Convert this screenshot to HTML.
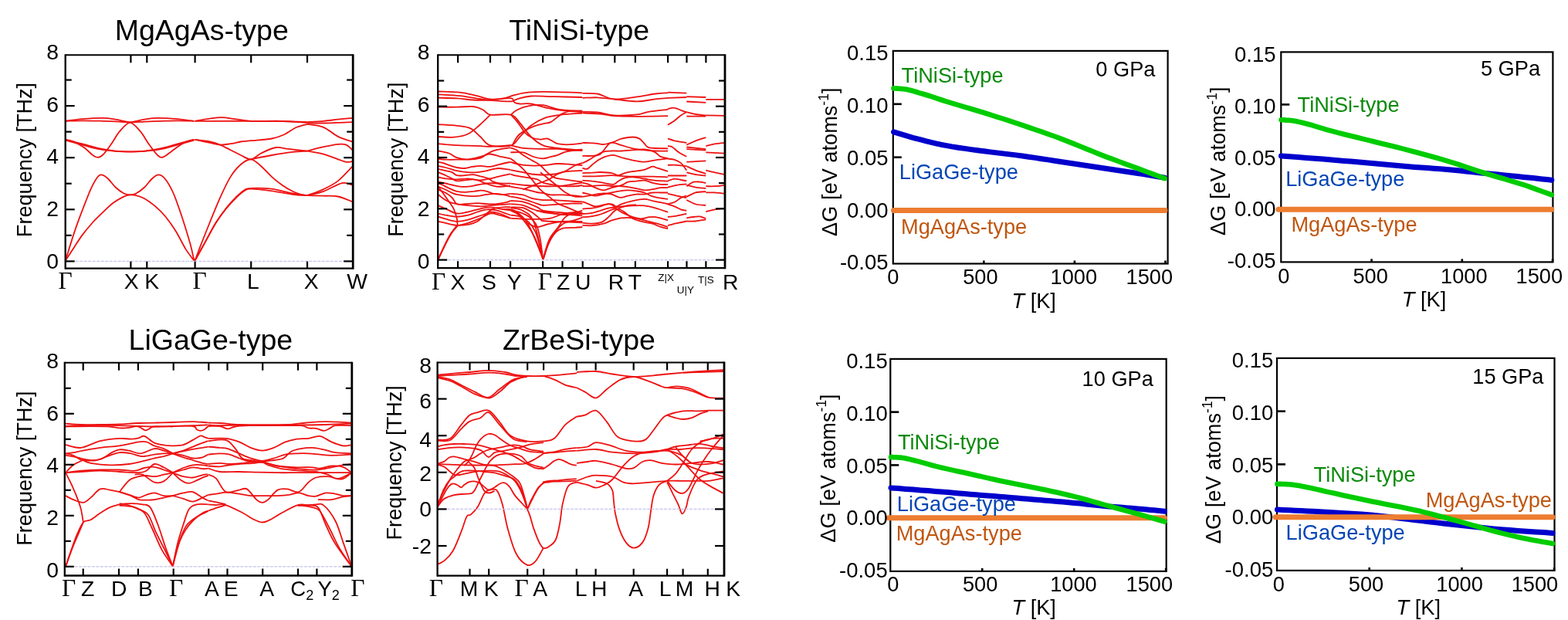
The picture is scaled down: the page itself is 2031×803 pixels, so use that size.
<!DOCTYPE html>
<html><head><meta charset="utf-8"><style>html,body{margin:0;padding:0;background:#fff;overflow:hidden}svg{display:block}</style></head><body>
<svg width="2031" height="803" viewBox="0 0 2031 803">
<rect width="2031" height="803" fill="#fff"/>
<defs>
<clipPath id="cP1"><rect x="84.7" y="71.3" width="372.5" height="276.3"/></clipPath>
<clipPath id="cP2"><rect x="567.2" y="71.3" width="371.79999999999995" height="275.9"/></clipPath>
<clipPath id="cP3"><rect x="83.8" y="469.7" width="372.0" height="275.8"/></clipPath>
<clipPath id="cP4"><rect x="566.6" y="469.5" width="371.4" height="276.20000000000005"/></clipPath>
</defs>
<g fill="none" stroke="#ee1111" stroke-width="1.8" stroke-linejoin="round" clip-path="url(#cP1)">
<path d="M84.8,337.6C86.7,334.7 92.4,325.8 96.1,320.2C99.7,314.6 102.8,309.5 106.8,304.1C110.8,298.8 115.7,293.0 120.2,288.0C124.6,283.1 129.1,278.9 133.6,274.7C138.0,270.4 142.5,265.9 147.0,262.6C151.4,259.3 156.8,256.3 160.4,254.6C163.9,252.9 165.7,252.6 168.4,252.4C171.1,252.2 173.3,252.4 176.4,253.2C179.6,254.0 183.1,255.0 187.2,257.2C191.2,259.5 196.1,262.8 200.5,266.6C205.0,270.4 209.5,274.7 213.9,280.0C218.4,285.4 222.9,291.6 227.3,298.8C231.8,305.9 236.7,316.4 240.7,322.9C244.7,329.3 249.7,335.2 251.4,337.6"/>
<path d="M84.8,337.6C86.7,331.6 92.4,312.4 96.1,301.4C99.7,290.5 103.2,281.4 106.8,272.0C110.4,262.6 114.4,252.1 117.5,245.2C120.6,238.3 123.3,233.6 125.5,230.5C127.8,227.3 128.7,226.4 130.9,226.4C133.1,226.4 135.8,227.8 138.9,230.5C142.1,233.1 146.1,239.2 149.6,242.5C153.2,245.9 157.2,248.9 160.4,250.5C163.5,252.2 165.7,252.4 168.4,252.4C171.1,252.4 173.3,252.2 176.4,250.5C179.6,248.9 183.6,245.9 187.2,242.5C190.7,239.2 194.7,233.1 197.9,230.5C201.0,227.8 203.2,226.2 205.9,226.4C208.6,226.7 210.8,227.8 213.9,231.8C217.1,235.8 221.1,242.5 224.7,250.5C228.2,258.6 231.8,269.3 235.4,280.0C238.9,290.7 243.4,305.2 246.1,314.8C248.8,324.4 250.6,333.8 251.4,337.6"/>
<path d="M84.8,180.9C86.7,181.3 92.0,181.8 96.1,183.6C100.2,185.4 105.4,188.7 109.5,191.6C113.5,194.5 117.3,198.9 120.2,201.0C123.1,203.0 124.6,204.1 126.9,203.9C129.1,203.8 130.7,203.1 133.6,200.2C136.5,197.2 140.7,191.3 144.3,186.3C147.9,181.3 151.0,174.7 155.0,170.2C159.0,165.6 163.9,158.9 168.4,158.9C172.9,158.9 177.8,165.6 181.8,170.2C185.8,174.7 188.9,181.3 192.5,186.3C196.1,191.3 200.5,197.2 203.2,200.2C206.0,203.1 206.9,203.9 209.1,203.9C211.4,203.9 213.1,202.5 216.6,200.2C220.1,197.9 226.0,193.0 230.0,190.3C234.0,187.5 237.2,185.1 240.7,183.6C244.3,182.0 249.7,181.3 251.4,180.9"/>
<path d="M84.8,180.9C88.5,181.8 99.6,184.4 106.8,186.3C114.0,188.1 121.1,190.6 128.2,192.1C135.4,193.7 143.0,194.9 149.6,195.6C156.3,196.3 162.2,196.4 168.4,196.4C174.7,196.4 180.5,196.3 187.2,195.6C193.8,194.9 201.4,193.7 208.6,192.1C215.7,190.6 222.9,188.1 230.0,186.3C237.2,184.4 247.9,181.8 251.4,180.9"/>
<path d="M84.8,181.7C88.5,182.7 99.6,185.7 106.8,187.6C114.0,189.5 121.1,191.8 128.2,193.2C135.4,194.6 143.0,195.3 149.6,195.9C156.3,196.5 162.2,196.7 168.4,196.7C174.7,196.7 180.5,196.5 187.2,195.9C193.8,195.3 201.4,194.6 208.6,193.2C215.7,191.8 222.9,189.5 230.0,187.6C237.2,185.7 247.9,182.7 251.4,181.7"/>
<path d="M84.8,156.8C88.5,156.7 98.7,156.3 106.8,156.3C114.9,156.3 125.5,156.6 133.6,156.8C141.6,157.0 149.2,157.3 155.0,157.6C160.8,157.9 163.0,158.4 168.4,158.4C173.8,158.4 180.5,157.9 187.2,157.6C193.8,157.3 201.4,157.0 208.6,156.8C215.7,156.6 222.9,156.3 230.0,156.3C237.2,156.3 247.9,156.7 251.4,156.8"/>
<path d="M84.8,156.8C88.5,156.3 98.7,154.8 106.8,154.1C114.9,153.4 126.4,152.7 133.6,152.8C140.7,152.9 145.2,154.0 149.6,154.6C154.1,155.3 157.2,156.2 160.4,156.8C163.5,157.4 165.7,158.4 168.4,158.4C171.1,158.4 173.3,157.4 176.4,156.8C179.6,156.2 182.7,155.3 187.2,154.6C191.6,154.0 196.1,152.9 203.2,152.8C210.4,152.7 222.0,153.4 230.0,154.1C238.0,154.8 247.9,156.3 251.4,156.8"/>
<path d="M252.5,337.5C254.8,333.3 261.9,320.3 266.4,312.1C271.0,303.8 275.3,295.1 279.8,288.0C284.3,280.8 288.7,274.8 293.2,269.2C297.7,263.6 302.6,258.4 306.6,254.5C310.6,250.6 314.2,247.4 317.3,245.7C320.4,243.9 319.5,244.0 325.3,243.8C331.1,243.6 343.2,243.5 352.1,244.6C361.0,245.7 371.2,249.1 378.9,250.5C386.5,251.9 394.9,252.7 398.1,253.2"/>
<path d="M252.5,337.5C254.8,333.3 261.9,320.8 266.4,312.6C271.0,304.4 275.3,295.6 279.8,288.5C284.3,281.4 288.7,275.6 293.2,270.0C297.7,264.5 302.6,259.2 306.6,255.3C310.6,251.4 314.2,248.5 317.3,246.7C320.4,244.9 319.5,244.5 325.3,244.6C331.1,244.7 343.2,246.1 352.1,247.3C361.0,248.5 371.2,250.8 378.9,251.8C386.5,252.8 394.9,252.9 398.1,253.2"/>
<path d="M252.5,337.5C253.9,333.7 257.9,323.0 261.1,314.7C264.3,306.5 267.8,297.8 271.8,288.0C275.8,278.1 280.7,265.7 285.2,255.8C289.6,246.0 294.1,236.2 298.5,229.1C303.0,221.9 307.5,216.8 311.9,213.0C316.4,209.2 320.9,205.9 325.3,206.3C329.8,206.8 334.2,211.9 338.7,215.7C343.2,219.5 347.6,225.0 352.1,229.1C356.6,233.1 361.0,236.6 365.5,239.8C369.9,242.9 374.9,245.8 378.9,247.8C382.9,249.8 386.4,250.9 389.6,251.8C392.8,252.7 396.7,252.9 398.1,253.2"/>
<path d="M252.5,180.9C255.7,181.3 266.3,182.4 271.8,183.5C277.2,184.7 280.7,185.8 285.2,187.6C289.6,189.3 294.1,192.0 298.5,194.3C303.0,196.5 307.5,198.9 311.9,201.0C316.4,203.0 320.9,206.8 325.3,206.3C329.8,205.9 333.4,200.8 338.7,198.3C344.1,195.7 351.6,191.9 357.4,191.0C363.3,190.2 366.7,192.2 373.5,192.9C380.3,193.7 394.0,195.1 398.1,195.6"/>
<path d="M252.5,180.9C255.7,181.5 266.3,183.8 271.8,184.9C277.2,186.0 280.7,187.3 285.2,187.6C289.6,187.8 294.1,186.9 298.5,186.2C303.0,185.6 307.5,184.2 311.9,183.5C316.4,182.9 318.6,182.9 325.3,182.2C332.0,181.5 345.0,180.9 352.1,179.5C359.2,178.2 362.8,176.6 368.2,174.2C373.5,171.7 379.2,167.0 384.2,164.8C389.2,162.6 395.8,161.5 398.1,160.8"/>
<path d="M325.3,206.3C329.8,205.4 343.2,202.5 352.1,201.0C361.0,199.4 371.2,197.8 378.9,196.9C386.5,196.0 394.9,195.8 398.1,195.6"/>
<path d="M252.5,156.8C257.9,156.8 273.0,156.8 285.2,156.8C297.3,156.8 311.9,156.7 325.3,156.8C338.7,156.8 353.3,156.8 365.5,157.0C377.6,157.3 392.7,157.9 398.1,158.1"/>
<path d="M252.5,156.8C255.7,156.2 265.9,154.3 271.8,153.6C277.7,152.8 282.5,152.1 287.8,152.2C293.2,152.3 297.7,153.3 303.9,154.1C310.1,154.9 315.1,156.3 325.3,156.8C335.6,157.2 353.3,156.4 365.5,156.8C377.6,157.1 392.7,158.6 398.1,158.9"/>
<path d="M398.1,160.8C401.6,161.5 412.4,162.1 419.0,164.8C425.6,167.5 431.5,173.7 437.8,176.9C444.0,180.0 453.4,182.4 456.5,183.5"/>
<path d="M398.1,158.1C401.6,157.9 412.4,157.4 419.0,156.8C425.6,156.2 431.5,155.3 437.8,154.6C444.0,154.0 453.4,153.1 456.5,152.8"/>
<path d="M398.1,159.5C401.6,159.5 412.4,159.5 419.0,159.5C425.6,159.4 431.5,159.1 437.8,158.9C444.0,158.7 453.4,158.2 456.5,158.1"/>
<path d="M398.1,195.6C401.6,194.7 412.4,191.7 419.0,190.2C425.6,188.8 432.9,187.2 437.8,186.8C442.7,186.3 445.4,186.3 448.5,187.6C451.6,188.8 455.2,193.1 456.5,194.3"/>
<path d="M398.1,195.6C401.6,196.3 412.4,197.8 419.0,199.6C425.6,201.4 432.9,204.6 437.8,206.3C442.7,208.0 445.4,209.3 448.5,209.8C451.6,210.2 455.2,209.1 456.5,209.0"/>
<path d="M398.1,253.2C401.6,251.8 412.4,248.3 419.0,245.1C425.6,242.0 431.5,239.3 437.8,234.4C444.0,229.5 453.4,218.8 456.5,215.7"/>
<path d="M398.1,253.2C401.6,252.3 411.5,250.5 419.0,247.8C426.5,245.1 436.9,238.4 443.1,237.1C449.4,235.8 454.3,239.3 456.5,239.8"/>
<path d="M398.1,253.2C401.6,253.2 412.4,253.5 419.0,253.7C425.6,253.9 431.5,253.2 437.8,254.5C444.0,255.7 453.4,260.1 456.5,261.2"/>
</g>
<g fill="none" stroke="#ee1111" stroke-width="1.8" stroke-linejoin="round" clip-path="url(#cP2)">
<path d="M567.8,118.5C572.4,118.7 587.3,118.7 595.5,119.6C603.6,120.5 610.2,122.4 616.7,123.8C623.2,125.3 628.6,127.8 634.5,128.4C640.4,129.0 646.9,128.3 652.2,127.4C657.5,126.5 661.1,124.4 666.4,123.1C671.7,121.8 677.0,120.3 684.1,119.6C691.2,118.9 697.2,118.7 708.9,118.9C720.6,119.0 746.8,120.0 754.3,120.3"/>
<path d="M567.8,122.4C572.4,122.7 587.3,123.4 595.5,124.2C603.6,125.0 610.2,126.4 616.7,127.4C623.2,128.3 629.1,129.3 634.5,129.9C639.8,130.4 643.9,130.7 648.7,130.9C653.4,131.2 659.3,131.7 662.8,131.3C666.4,130.9 665.8,129.6 669.9,128.4C674.1,127.3 679.4,125.1 687.7,124.5C695.9,124.0 708.5,125.0 719.6,125.2C730.7,125.5 748.5,125.8 754.3,126.0"/>
<path d="M567.8,126.7C571.8,126.8 584.3,126.9 591.9,127.4C599.5,127.8 606.1,129.1 613.2,129.5C620.3,129.9 628.6,129.7 634.5,129.5C640.4,129.3 643.9,128.4 648.7,128.1C653.4,127.7 659.9,126.6 662.8,127.4C665.8,128.1 664.6,131.5 666.4,132.7C668.2,133.9 669.9,134.2 673.5,134.5C677.0,134.8 681.7,133.6 687.7,134.5C693.6,135.4 701.8,138.3 708.9,139.8C716.0,141.3 722.6,142.4 730.2,143.3C737.8,144.2 750.3,144.8 754.3,145.1"/>
<path d="M567.8,138.7C571.8,138.7 584.3,138.8 591.9,138.7C599.5,138.6 607.6,137.4 613.2,138.0C618.8,138.6 621.9,140.5 625.6,142.3C629.3,144.0 629.1,147.6 635.2,148.7C641.2,149.7 655.4,146.9 661.8,148.7C668.2,150.4 669.2,154.6 673.5,159.3C677.8,164.0 682.6,172.2 687.7,177.0C692.7,181.9 697.7,185.9 703.6,188.4C709.5,190.9 714.7,190.9 723.1,191.9C731.6,193.0 749.1,194.3 754.3,194.8"/>
<path d="M567.8,161.1C571.8,161.4 584.9,162.0 591.9,162.8C598.9,163.7 604.6,164.0 609.6,166.4C614.7,168.7 617.8,173.4 622.1,177.0C626.3,180.7 628.6,186.5 635.2,188.4C641.8,190.3 655.4,190.3 661.8,188.4C668.2,186.5 669.2,181.3 673.5,177.0C677.8,172.8 682.3,166.9 687.7,162.8C693.0,158.8 698.9,155.3 705.4,152.9C711.9,150.5 718.5,149.7 726.7,148.7C734.8,147.6 749.7,146.9 754.3,146.5"/>
<path d="M567.8,177.0C571.2,177.1 582.0,178.3 588.4,177.7C594.8,177.1 600.8,176.0 606.1,173.5C611.4,171.0 615.4,167.0 620.3,162.8C625.1,158.7 632.7,151.0 635.2,148.7"/>
<path d="M661.8,148.7C663.1,147.6 666.2,144.2 669.9,142.3C673.7,140.4 678.5,138.3 684.1,137.3C689.7,136.3 697.1,135.5 703.6,136.2C710.1,137.0 714.7,140.2 723.1,141.6C731.6,142.9 749.1,143.9 754.3,144.4"/>
<path d="M661.8,269.2C664.3,269.8 672.1,269.8 677.0,272.8C681.9,275.7 686.8,276.4 691.2,287.0C695.6,297.5 701.5,327.7 703.6,335.9"/>
<path d="M652.2,271.0C654.6,271.3 661.1,269.5 666.4,272.8C671.7,276.0 677.9,280.0 684.1,290.5C690.3,301.0 700.4,328.3 703.6,335.9"/>
<path d="M661.8,272.8C663.7,273.9 668.6,274.5 673.5,279.9C678.4,285.2 686.2,295.3 691.2,304.7C696.2,314.0 701.5,330.7 703.6,335.9"/>
<path d="M703.6,335.9C704.8,332.5 708.0,321.1 710.7,315.3C713.4,309.5 716.6,304.4 719.6,301.1C722.5,297.9 724.3,296.9 728.4,295.8C732.6,294.8 740.1,295.0 744.4,294.8C748.7,294.5 752.7,294.2 754.3,294.0"/>
<path d="M703.6,335.9C704.5,333.0 706.9,324.1 708.9,318.9C711.0,313.7 712.8,309.4 716.0,304.7C719.3,300.0 723.7,293.7 728.4,290.5C733.2,287.2 740.1,286.7 744.4,285.2C748.7,283.7 752.7,282.2 754.3,281.6"/>
<path d="M703.6,335.9C704.2,333.6 705.7,327.0 707.2,322.4C708.6,317.8 709.8,313.0 712.5,308.2C715.1,303.5 719.6,298.8 723.1,294.0C726.7,289.3 728.6,283.4 733.8,279.9C739.0,276.3 750.9,273.9 754.3,272.8"/>
<path d="M680.6,287.0C682.9,288.1 690.0,293.5 694.8,294.0C699.5,294.6 703.3,291.7 708.9,290.5C714.6,289.3 720.9,287.5 728.4,287.0C736.0,286.4 750.0,287.0 754.3,287.0"/>
<path d="M694.8,272.8C697.1,273.1 703.3,273.7 708.9,274.5C714.6,275.4 720.9,277.7 728.4,278.1C736.0,278.5 750.0,277.2 754.3,277.0"/>
<path d="M567.5,186.2C569.1,186.3 573.3,186.8 577.3,187.2C581.4,187.5 586.9,188.0 591.7,188.2C596.5,188.5 600.9,188.5 606.1,188.6C611.2,188.8 617.7,189.0 622.5,189.2C627.3,189.4 630.7,189.9 634.8,189.9C638.9,189.9 642.8,189.5 647.1,189.2C651.5,189.0 658.8,188.4 661.1,188.2"/>
<path d="M567.5,195.4C569.8,195.9 577.4,197.0 581.4,198.5C585.5,200.0 587.6,202.9 591.7,204.2C595.8,205.6 600.9,206.6 606.1,206.7C611.2,206.8 618.4,205.8 622.5,204.6C626.6,203.4 628.0,201.0 630.7,199.5C633.4,198.0 635.5,196.5 638.9,195.4C642.3,194.3 647.5,193.4 651.2,192.7C654.9,192.0 659.5,191.5 661.1,191.3"/>
<path d="M567.5,205.7C569.1,205.8 573.3,206.5 577.3,206.7C581.4,206.9 586.9,206.8 591.7,206.7C596.5,206.6 602.0,206.6 606.1,206.3C610.2,205.9 612.9,205.4 616.3,204.6C619.8,203.9 623.5,202.4 626.6,201.6C629.7,200.7 631.4,199.3 634.8,199.5C638.2,199.7 642.8,201.6 647.1,202.6C651.5,203.5 658.8,204.8 661.1,205.3"/>
<path d="M567.5,209.8C568.4,209.9 570.9,210.1 573.2,210.8C575.5,211.5 578.3,212.9 581.4,213.9C584.5,214.9 588.3,216.3 591.7,217.0C595.1,217.6 598.5,218.2 602.0,218.0C605.4,217.8 608.8,216.4 612.2,215.9C615.7,215.4 618.7,214.9 622.5,214.9C626.3,214.9 630.7,216.3 634.8,215.9C638.9,215.6 642.8,213.9 647.1,212.9C651.5,211.8 658.8,210.3 661.1,209.8"/>
<path d="M567.5,214.9C569.1,215.2 573.3,215.9 577.3,217.0C581.4,218.0 586.9,220.0 591.7,221.1C596.5,222.1 601.6,222.8 606.1,223.1C610.5,223.5 614.3,223.5 618.4,223.1C622.5,222.8 627.3,221.8 630.7,221.1C634.1,220.4 636.2,219.5 638.9,219.0C641.7,218.5 643.4,217.8 647.1,218.0C650.8,218.2 658.8,219.7 661.1,220.0"/>
<path d="M567.5,219.0C569.1,219.4 574.3,220.4 577.3,221.1C580.3,221.8 583.1,222.1 585.5,223.1C587.9,224.1 589.0,226.5 591.7,227.2C594.4,227.9 598.5,227.4 602.0,227.2C605.4,227.1 608.8,226.0 612.2,226.2C615.7,226.4 619.1,227.4 622.5,228.3C625.9,229.1 630.0,230.1 632.8,231.3C635.5,232.5 636.5,234.4 638.9,235.4C641.3,236.5 643.4,237.2 647.1,237.5C650.8,237.8 658.8,237.5 661.1,237.5"/>
<path d="M567.5,223.1C569.1,223.8 574.3,225.9 577.3,227.2C580.3,228.6 583.1,230.1 585.5,231.3C587.9,232.5 589.0,234.1 591.7,234.4C594.4,234.8 598.5,233.7 602.0,233.4C605.4,233.0 608.8,232.4 612.2,232.4C615.7,232.4 618.7,233.6 622.5,233.4C626.3,233.2 630.7,232.2 634.8,231.3C638.9,230.5 642.8,229.2 647.1,228.3C651.5,227.3 658.8,225.9 661.1,225.4"/>
<path d="M567.5,229.3C569.1,229.6 573.6,230.8 577.3,231.3C581.0,231.8 584.8,232.4 589.6,232.4C594.4,232.4 601.3,231.2 606.1,231.3C610.9,231.5 615.0,232.5 618.4,233.4C621.8,234.2 623.9,235.4 626.6,236.5C629.3,237.5 632.1,238.7 634.8,239.5C637.6,240.4 640.3,241.3 643.0,241.6C645.8,241.9 648.2,241.8 651.2,241.6C654.3,241.4 659.5,240.7 661.1,240.6"/>
<path d="M567.5,235.4C569.1,235.8 574.3,236.8 577.3,237.5C580.3,238.2 582.5,238.9 585.5,239.5C588.6,240.2 592.4,241.3 595.8,241.6C599.2,241.9 602.3,241.9 606.1,241.6C609.8,241.3 614.3,240.2 618.4,239.5C622.5,238.9 626.6,237.8 630.7,237.5C634.8,237.2 639.6,237.2 643.0,237.5C646.5,237.8 648.2,238.9 651.2,239.5C654.3,240.2 659.5,241.3 661.1,241.6"/>
<path d="M567.5,237.5C568.4,237.8 570.9,238.5 573.2,239.5C575.5,240.6 578.3,242.3 581.4,243.7C584.5,245.0 588.3,246.9 591.7,247.8C595.1,248.6 598.2,248.8 602.0,248.8C605.7,248.8 610.9,248.1 614.3,247.8C617.7,247.4 619.8,246.7 622.5,246.7C625.2,246.7 628.0,247.1 630.7,247.8C633.4,248.4 635.5,250.2 638.9,250.8C642.3,251.5 647.5,251.9 651.2,251.9C654.9,251.9 659.5,251.0 661.1,250.8"/>
<path d="M567.5,241.6C569.1,242.3 574.3,244.3 577.3,245.7C580.3,247.1 583.1,248.8 585.5,249.8C587.9,250.8 588.3,251.2 591.7,251.9C595.1,252.6 601.6,253.6 606.1,253.9C610.5,254.3 614.3,254.3 618.4,253.9C622.5,253.6 626.6,252.4 630.7,251.9C634.8,251.4 638.9,250.7 643.0,250.8C647.1,251.0 652.3,252.3 655.3,252.9C658.4,253.5 660.1,254.3 661.1,254.5"/>
<path d="M567.5,245.7C569.1,246.4 574.3,248.1 577.3,249.8C580.3,251.5 583.1,253.6 585.5,256.0C587.9,258.4 589.0,262.8 591.7,264.2C594.4,265.6 597.5,264.4 602.0,264.2C606.4,264.0 613.6,263.2 618.4,263.2C623.2,263.2 626.6,264.0 630.7,264.2C634.8,264.4 638.9,264.5 643.0,264.2C647.1,263.8 652.3,262.8 655.3,262.1C658.4,261.5 660.1,260.4 661.1,260.1"/>
<path d="M567.5,251.9C568.8,252.9 572.6,256.3 575.3,258.0C577.9,259.7 580.7,261.1 583.5,262.1C586.2,263.2 587.9,263.5 591.7,264.2C595.5,264.9 600.9,265.7 606.1,266.2C611.2,266.8 617.7,267.3 622.5,267.3C627.3,267.3 630.7,266.6 634.8,266.2C638.9,265.9 642.8,265.6 647.1,265.2C651.5,264.9 658.8,264.4 661.1,264.2"/>
<path d="M567.5,241.6C569.4,244.3 576.0,253.2 579.4,258.0C582.7,262.8 585.5,266.2 587.6,270.3C589.6,274.5 590.8,279.1 591.7,282.7C592.5,286.3 592.5,290.4 592.7,291.9"/>
<path d="M567.5,266.2C569.1,266.9 573.3,268.6 577.3,270.3C581.4,272.1 586.9,275.8 591.7,276.5C596.5,277.2 600.9,275.5 606.1,274.5C611.2,273.4 617.7,271.4 622.5,270.3C627.3,269.3 630.7,268.3 634.8,268.3C638.9,268.3 642.8,269.7 647.1,270.3C651.5,271.0 658.8,272.1 661.1,272.4"/>
<path d="M567.5,276.5C569.1,276.9 573.3,277.9 577.3,278.6C581.4,279.2 586.9,280.6 591.7,280.6C596.5,280.6 601.6,279.6 606.1,278.6C610.5,277.5 614.3,275.7 618.4,274.5C622.5,273.3 626.6,271.7 630.7,271.4C634.8,271.0 638.9,271.5 643.0,272.4C647.1,273.3 652.3,275.5 655.3,276.5C658.4,277.5 660.1,278.2 661.1,278.6"/>
<path d="M567.5,280.6C569.1,281.1 573.3,282.7 577.3,283.7C581.4,284.7 586.9,286.6 591.7,286.8C596.5,286.9 601.6,285.7 606.1,284.7C610.5,283.7 614.3,282.0 618.4,280.6C622.5,279.2 628.0,277.5 630.7,276.5C633.4,275.5 632.1,274.5 634.8,274.5C637.6,274.5 642.8,275.1 647.1,276.5C651.5,277.9 658.8,281.6 661.1,282.7"/>
<path d="M567.5,286.8C569.1,287.1 574.3,288.1 577.3,288.8C580.3,289.5 583.0,290.4 585.5,290.9C588.1,291.4 589.3,291.9 592.7,291.9C596.1,291.9 601.8,291.7 606.1,290.9C610.3,290.0 613.9,289.5 618.4,286.8C622.8,284.0 629.3,277.2 632.8,274.5C636.2,271.7 635.8,271.4 638.9,270.3C642.0,269.3 647.5,268.6 651.2,268.3C654.9,268.0 659.5,268.3 661.1,268.3"/>
<path d="M567.5,336.1C568.8,333.3 572.6,325.1 575.3,319.6C577.9,314.2 580.6,307.8 583.5,303.2C586.4,298.6 591.2,293.8 592.7,291.9"/>
<path d="M567.5,336.1C569.1,332.6 574.3,321.3 577.3,315.5C580.3,309.7 583.0,305.0 585.5,301.1C588.1,297.3 591.5,294.0 592.7,292.5"/>
<path d="M567.5,336.1C568.4,334.0 570.9,328.5 573.2,323.7C575.5,318.9 578.7,312.1 581.4,307.3C584.2,302.5 587.8,297.5 589.6,295.0C591.5,292.5 590.0,293.6 592.7,292.5C595.5,291.5 601.1,290.5 606.1,288.8C611.0,287.2 617.7,284.7 622.5,282.7C627.3,280.6 630.7,277.2 634.8,276.5C638.9,275.8 642.8,277.5 647.1,278.6C651.5,279.6 658.8,282.0 661.1,282.7"/>
<path d="M661.3,188.2C664.0,188.8 670.4,191.0 677.4,191.8C684.4,192.6 695.8,192.7 703.2,192.9C710.7,193.1 717.3,192.7 722.3,192.9C727.4,193.1 728.2,193.7 733.5,194.0C738.9,194.4 750.9,195.0 754.4,195.2"/>
<path d="M661.3,209.7C662.5,210.1 665.0,211.2 668.5,212.0C671.9,212.7 676.1,213.9 681.9,214.2C687.7,214.6 696.5,214.6 703.2,214.2C710.0,213.9 716.1,212.2 722.3,212.0C728.5,211.8 734.9,212.7 740.3,213.1C745.6,213.5 752.0,214.0 754.4,214.2"/>
<path d="M661.3,220.1C664.0,220.6 672.9,222.3 677.4,223.2C682.0,224.1 684.4,224.9 688.7,225.5C693.0,226.0 698.4,226.6 703.2,226.6C708.1,226.6 712.8,226.2 717.8,225.5C722.9,224.7 727.4,222.8 733.5,222.1C739.6,221.3 750.9,221.2 754.4,221.0"/>
<path d="M661.3,237.6C664.7,238.0 674.9,239.4 681.9,240.0C688.9,240.6 696.5,241.0 703.2,241.2C710.0,241.3 716.1,241.5 722.3,241.2C728.5,240.8 734.9,239.7 740.3,238.9C745.6,238.2 752.0,237.0 754.4,236.7"/>
<path d="M661.3,241.6C664.7,242.3 676.2,244.4 681.9,245.6C687.6,246.9 691.8,248.3 695.4,249.0C698.9,249.8 700.2,249.6 703.2,250.1C706.2,250.7 709.0,252.0 713.3,252.4C717.6,252.7 723.8,252.2 729.0,252.4C734.3,252.6 740.5,253.1 744.7,253.5C749.0,253.9 752.8,254.4 754.4,254.6"/>
<path d="M661.3,250.8C664.0,251.1 672.9,251.4 677.4,252.4C682.0,253.4 684.4,255.7 688.7,256.9C693.0,258.0 698.4,258.7 703.2,259.1C708.1,259.5 712.8,258.9 717.8,259.1C722.9,259.3 727.4,259.9 733.5,260.2C739.6,260.6 750.9,261.2 754.4,261.4"/>
<path d="M661.3,282.7C665.1,282.9 677.7,283.6 684.2,283.8C690.6,284.0 695.0,284.0 699.9,283.8C704.7,283.6 708.5,283.8 713.3,282.7C718.2,281.5 723.8,278.4 729.0,277.1C734.3,275.7 740.5,275.0 744.7,274.8C749.0,274.6 752.8,275.7 754.4,275.9"/>
<path d="M661.3,260.0C664.0,260.2 671.8,260.0 677.4,261.4C683.1,262.7 691.1,266.2 695.4,268.1C699.7,270.0 698.8,271.4 703.2,272.6C707.7,273.7 713.8,274.1 722.3,274.8C730.8,275.6 749.0,276.7 754.4,277.1"/>
<path d="M661.3,264.3C664.0,264.5 672.9,264.8 677.4,265.8C682.0,266.8 684.4,268.8 688.7,270.3C693.0,271.8 697.6,273.7 703.2,274.8C708.8,275.9 713.8,276.3 722.3,277.1C730.8,277.8 749.0,278.9 754.4,279.3"/>
<path d="M661.3,268.3C664.0,268.5 672.9,268.1 677.4,269.2C682.0,270.3 684.9,272.4 688.7,274.8C692.4,277.2 697.4,281.9 699.9,283.8C702.3,285.7 699.5,285.5 703.2,286.0C707.0,286.6 713.8,286.8 722.3,287.2C730.8,287.5 749.0,288.1 754.4,288.3"/>
<path d="M661.3,272.3C663.2,272.8 668.8,273.3 672.9,274.8C677.1,276.3 682.7,278.6 686.4,281.5C690.2,284.5 693.1,287.9 695.4,292.8C697.6,297.6 698.6,303.5 699.9,310.7C701.2,318.0 702.7,332.0 703.2,336.3"/>
<path d="M661.3,278.6C663.2,278.9 669.1,279.0 672.9,280.4C676.8,281.8 680.8,284.0 684.2,287.2C687.5,290.3 690.7,294.4 693.1,299.5C695.6,304.5 697.1,311.3 698.8,317.4C700.4,323.6 702.5,333.1 703.2,336.3"/>
<path d="M754.5,120.9C757.7,121.0 767.2,120.3 773.9,121.5C780.7,122.8 786.4,127.8 794.9,128.4C803.3,129.1 815.8,126.6 824.8,125.4C833.7,124.3 842.0,122.4 848.7,121.5C855.4,120.7 862.4,120.5 865.1,120.3"/>
<path d="M754.5,126.9C757.7,126.8 767.2,126.1 773.9,126.3C780.7,126.6 786.4,127.6 794.9,128.4C803.3,129.3 815.8,131.4 824.8,131.4C833.7,131.4 842.0,129.2 848.7,128.4C855.4,127.7 862.4,127.2 865.1,126.9"/>
<path d="M754.5,144.9C757.7,145.0 767.2,144.7 773.9,145.5C780.7,146.2 786.4,148.8 794.9,149.3C803.3,149.8 817.3,149.2 824.8,148.4C832.2,147.7 833.0,146.0 839.7,144.9C846.4,143.8 860.9,142.4 865.1,141.9"/>
<path d="M754.5,146.4C758.7,146.6 773.2,147.2 779.9,147.8C786.6,148.5 787.4,149.7 794.9,150.2C802.3,150.7 813.0,150.8 824.8,150.8C836.5,150.8 858.4,150.3 865.1,150.2"/>
<path d="M754.4,184.9C757.2,185.0 766.6,185.2 771.2,185.6C775.7,185.9 777.9,187.3 781.7,187.0C785.6,186.8 790.6,185.1 794.4,183.9C798.3,182.6 800.8,180.7 805.0,179.6C809.3,178.6 816.0,177.5 819.8,177.5C823.7,177.5 825.8,178.2 828.3,179.6C830.8,181.0 832.5,184.0 834.7,186.0C836.8,187.9 835.9,190.2 841.0,191.3C846.1,192.3 861.1,192.2 865.1,192.3"/>
<path d="M754.4,201.9C756.5,201.9 763.1,202.2 766.9,201.9C770.8,201.5 774.0,202.2 777.5,199.7C781.0,197.3 785.3,189.5 788.1,187.0C790.9,184.6 791.6,184.7 794.4,184.9C797.3,185.1 800.8,186.9 805.0,188.1C809.3,189.3 814.9,191.3 819.8,192.3C824.8,193.4 829.7,193.9 834.7,194.4C839.6,195.0 844.4,195.3 849.5,195.5C854.6,195.7 862.5,195.5 865.1,195.5"/>
<path d="M754.4,211.4C755.8,210.7 759.9,208.7 762.7,207.1C765.5,205.6 768.0,203.6 771.2,201.9C774.3,200.1 778.2,197.6 781.7,196.6C785.3,195.5 788.4,195.7 792.3,195.5C796.2,195.3 800.4,195.7 805.0,195.5C809.6,195.3 814.9,194.8 819.8,194.4C824.8,194.1 830.1,193.0 834.7,193.4C839.2,193.7 843.8,195.0 847.4,196.6C850.9,198.1 852.9,201.5 855.8,202.9C858.8,204.3 863.6,204.7 865.1,205.0"/>
<path d="M754.4,217.7C755.5,217.9 758.5,219.5 760.6,218.8C762.7,218.1 764.5,215.4 766.9,213.5C769.4,211.6 772.6,208.9 775.4,207.1C778.2,205.4 780.7,204.0 783.9,202.9C787.0,201.9 790.9,200.6 794.4,200.8C798.0,201.0 800.8,202.8 805.0,204.0C809.3,205.1 814.9,206.6 819.8,207.6C824.8,208.5 830.1,209.7 834.7,209.7C839.2,209.7 842.3,208.3 847.4,207.6C852.4,206.9 862.2,205.8 865.1,205.4"/>
<path d="M754.4,224.1C756.5,224.0 763.1,223.8 766.9,223.7C770.8,223.5 773.3,222.9 777.5,223.0C781.7,223.1 788.4,223.4 792.3,224.1C796.2,224.8 798.0,227.2 800.8,227.2C803.6,227.2 806.1,225.0 809.3,224.1C812.4,223.2 815.6,222.7 819.8,222.0C824.1,221.3 830.4,220.9 834.7,219.8C838.9,218.8 842.4,216.0 845.2,215.6C848.1,215.3 848.3,216.7 851.6,217.7C854.9,218.8 862.9,221.3 865.1,222.0"/>
<path d="M754.4,228.3C757.2,228.3 764.9,228.5 771.2,228.3C777.5,228.1 786.0,227.2 792.3,227.2C798.7,227.2 804.0,228.1 809.3,228.3C814.6,228.6 818.1,228.7 824.1,228.7C830.1,228.8 838.4,228.6 845.2,228.7C852.1,228.8 861.8,229.3 865.1,229.4"/>
<path d="M754.4,233.6C756.5,233.8 762.4,234.1 766.9,234.7C771.5,235.2 777.2,236.1 781.7,236.8C786.3,237.5 791.3,239.2 794.4,238.9C797.6,238.5 798.3,236.1 800.8,234.7C803.3,233.2 806.1,231.3 809.3,230.4C812.4,229.5 815.6,229.2 819.8,229.4C824.1,229.5 830.1,230.8 834.7,231.5C839.2,232.2 842.3,233.1 847.4,233.6C852.4,234.1 862.2,234.5 865.1,234.7"/>
<path d="M754.4,236.8C755.8,237.1 759.9,237.8 762.7,238.9C765.5,239.9 768.0,241.9 771.2,243.1C774.3,244.4 778.2,246.3 781.7,246.3C785.3,246.3 788.4,244.2 792.3,243.1C796.2,242.1 801.5,241.2 805.0,239.9C808.6,238.7 810.3,236.6 813.5,235.7C816.7,234.8 820.5,235.0 824.1,234.7C827.6,234.3 831.1,233.2 834.7,233.6C838.2,234.0 841.7,235.9 845.2,236.8C848.8,237.7 852.5,238.5 855.8,238.9C859.1,239.2 863.6,238.9 865.1,238.9"/>
<path d="M754.4,241.0C756.5,241.0 762.4,241.2 766.9,241.0C771.5,240.8 777.5,239.9 781.7,239.9C786.0,239.9 788.8,240.8 792.3,241.0C795.9,241.2 799.4,240.8 802.9,241.0C806.4,241.2 810.0,241.5 813.5,242.1C817.0,242.6 820.5,243.5 824.1,244.2C827.6,244.9 831.1,246.1 834.7,246.3C838.2,246.5 841.7,245.8 845.2,245.2C848.8,244.7 852.5,243.5 855.8,243.1C859.1,242.8 863.6,243.1 865.1,243.1"/>
<path d="M754.4,249.5C755.8,249.8 759.9,250.9 762.7,251.6C765.5,252.3 768.0,253.7 771.2,253.7C774.3,253.7 778.2,252.3 781.7,251.6C785.3,250.9 788.8,250.2 792.3,249.5C795.9,248.8 799.4,247.9 802.9,247.4C806.4,246.8 810.0,246.3 813.5,246.3C817.0,246.3 820.5,246.8 824.1,247.4C827.6,247.9 831.5,248.4 834.7,249.5C837.8,250.5 840.3,252.6 843.1,253.7C845.9,254.8 847.9,255.1 851.6,255.8C855.3,256.5 862.9,257.6 865.1,257.9"/>
<path d="M754.4,254.8C756.5,254.4 762.4,253.4 766.9,252.6C771.5,251.9 777.5,250.7 781.7,250.5C786.0,250.4 788.8,250.7 792.3,251.6C795.9,252.5 799.4,255.5 802.9,255.8C806.4,256.2 810.0,254.4 813.5,253.7C817.0,253.0 820.5,251.9 824.1,251.6C827.6,251.2 831.1,251.9 834.7,251.6C838.2,251.2 841.7,249.8 845.2,249.5C848.8,249.1 852.5,249.5 855.8,249.5C859.1,249.5 863.6,249.5 865.1,249.5"/>
<path d="M754.4,261.1C755.8,261.6 759.9,263.2 762.7,264.3C765.5,265.3 768.0,267.3 771.2,267.5C774.3,267.6 778.2,265.9 781.7,265.3C785.3,264.8 789.5,263.9 792.3,264.3C795.1,264.6 796.6,267.5 798.7,267.5C800.8,267.5 801.5,265.5 805.0,264.3C808.6,263.1 814.9,261.1 819.8,260.1C824.8,259.0 830.4,257.9 834.7,257.9C838.9,257.9 841.7,259.3 845.2,260.1C848.8,260.8 852.5,261.5 855.8,262.2C859.1,262.9 863.6,263.9 865.1,264.3"/>
<path d="M754.4,270.6C756.5,270.5 763.1,270.1 766.9,269.6C770.8,269.0 774.3,268.3 777.5,267.5C780.7,266.6 783.5,264.6 786.0,264.3C788.4,263.9 790.2,264.3 792.3,265.3C794.4,266.4 796.6,269.0 798.7,270.6C800.8,272.2 801.5,273.1 805.0,274.9C808.6,276.6 815.6,279.8 819.8,281.2C824.1,282.6 826.9,283.3 830.4,283.3C834.0,283.3 837.8,281.6 841.0,281.2C844.2,280.9 845.4,280.5 849.5,281.2C853.5,281.9 862.5,284.7 865.1,285.4"/>
<path d="M754.4,277.0C756.5,276.8 763.1,276.6 766.9,275.9C770.8,275.2 774.0,273.8 777.5,272.8C781.0,271.7 784.9,270.3 788.1,269.6C791.3,268.9 793.7,268.9 796.6,268.5C799.4,268.2 801.1,267.8 805.0,267.5C808.9,267.1 814.9,266.6 819.8,266.4C824.8,266.2 829.7,265.9 834.7,266.4C839.6,266.9 844.4,268.2 849.5,269.6C854.6,271.0 862.5,274.0 865.1,274.9"/>
<path d="M754.4,281.2C756.5,281.0 762.7,280.9 766.9,280.2C771.1,279.5 775.4,278.4 779.6,277.0C783.9,275.6 788.8,272.8 792.3,271.7C795.9,270.6 798.0,270.1 800.8,270.6C803.6,271.2 806.1,272.8 809.3,274.9C812.4,277.0 815.6,281.2 819.8,283.3C824.1,285.4 830.4,286.5 834.7,287.6C838.9,288.6 841.7,288.6 845.2,289.7C848.8,290.7 852.5,292.9 855.8,293.9C859.1,295.0 863.6,295.7 865.1,296.0"/>
<path d="M754.4,288.6C756.5,288.8 762.7,289.9 766.9,289.7C771.1,289.5 776.1,289.0 779.6,287.6C783.2,286.2 785.3,283.7 788.1,281.2C790.9,278.7 793.7,274.9 796.6,272.8C799.4,270.6 802.2,269.6 805.0,268.5C807.8,267.4 810.3,266.5 813.5,266.0C816.7,265.4 822.3,265.4 824.1,265.3"/>
<path d="M754.4,291.8C756.5,291.9 762.4,292.6 766.9,292.2C771.5,291.9 777.5,290.8 781.7,289.7C786.0,288.6 788.4,286.7 792.3,285.4C796.2,284.2 800.4,282.8 805.0,282.3C809.6,281.7 814.9,281.7 819.8,282.3C824.8,282.8 829.4,284.2 834.7,285.4C839.9,286.7 846.5,288.3 851.6,289.7C856.7,291.1 862.9,293.2 865.1,293.9"/>
<path d="M864.9,119.7L889.3,120.6"/>
<path d="M864.9,126.9L889.3,126.0"/>
<path d="M864.9,141.1C866.4,140.9 870.4,139.3 873.7,139.8C877.0,140.2 882.1,143.0 884.7,143.9C887.3,144.8 888.6,145.0 889.3,145.2"/>
<path d="M864.9,161.7C866.4,160.8 870.9,158.3 873.7,156.2C876.5,154.2 879.3,151.2 881.9,149.4C884.5,147.5 888.1,145.9 889.3,145.2"/>
<path d="M864.9,179.5C866.4,180.0 869.6,181.3 873.7,182.3C877.8,183.2 886.7,184.5 889.3,185.0"/>
<path d="M864.9,189.1C865.9,189.3 868.6,189.1 871.0,190.5C873.3,191.9 876.1,195.3 879.2,197.3C882.3,199.4 887.6,201.9 889.3,202.8"/>
<path d="M864.9,205.6C866.4,205.8 870.9,206.0 873.7,206.9C876.5,207.9 879.3,208.8 881.9,211.1C884.5,213.3 888.1,219.0 889.3,220.6"/>
<path d="M864.9,213.8C866.9,213.8 872.4,213.6 876.5,213.8C880.5,214.0 887.2,214.9 889.3,215.2"/>
<path d="M864.9,227.5C866.9,227.5 872.4,227.5 876.5,227.5C880.5,227.5 887.2,227.5 889.3,227.5"/>
<path d="M864.9,234.4C866.4,233.9 870.9,231.8 873.7,231.6C876.5,231.4 879.3,232.5 881.9,233.0C884.5,233.4 888.1,234.1 889.3,234.4"/>
<path d="M864.9,242.6C866.9,242.1 872.4,240.5 876.5,239.8C880.5,239.2 887.2,238.7 889.3,238.5"/>
<path d="M864.9,250.8C866.9,251.3 872.4,252.6 876.5,253.6C880.5,254.5 887.2,255.8 889.3,256.3"/>
<path d="M864.9,264.5C866.4,264.1 870.9,263.1 873.7,261.8C876.5,260.4 879.3,257.7 881.9,256.3C884.5,254.9 888.1,254.0 889.3,253.6"/>
<path d="M864.9,264.5C866.4,265.0 870.9,266.1 873.7,267.3C876.5,268.4 879.3,270.5 881.9,271.4C884.5,272.3 888.1,272.5 889.3,272.7"/>
<path d="M864.9,281.0C866.9,280.7 872.4,280.3 876.5,279.6C880.5,278.9 887.2,277.3 889.3,276.9"/>
<path d="M864.9,291.9C866.9,291.5 872.4,290.1 876.5,289.2C880.5,288.3 887.2,286.9 889.3,286.5"/>
<path d="M889.3,125.2L914.3,126.0"/>
<path d="M889.3,131.5L914.3,132.9"/>
<path d="M889.3,145.2C891.3,145.7 897.0,147.3 901.1,148.0C905.3,148.7 912.1,149.1 914.3,149.4"/>
<path d="M889.3,150.7L914.3,150.7"/>
<path d="M889.3,187.7C891.3,186.8 897.0,183.9 901.1,182.3C905.3,180.7 912.1,178.8 914.3,178.1"/>
<path d="M889.3,190.5L914.3,193.2"/>
<path d="M889.3,193.2L914.3,194.6"/>
<path d="M889.3,209.7C891.3,209.6 897.0,209.4 901.1,209.1C905.3,208.9 912.1,208.4 914.3,208.3"/>
<path d="M889.3,215.2C891.3,216.1 897.0,219.0 901.1,220.6C905.3,222.2 912.1,224.1 914.3,224.8"/>
<path d="M889.3,223.4C891.3,223.8 897.0,225.4 901.1,226.1C905.3,226.8 912.1,227.3 914.3,227.5"/>
<path d="M889.3,241.2C890.8,240.3 895.5,236.6 898.4,235.7C901.3,234.8 904.0,235.5 906.6,235.7C909.3,236.0 913.0,236.9 914.3,237.1"/>
<path d="M889.3,239.8C891.3,240.3 897.0,241.9 901.1,242.6C905.3,243.3 912.1,243.7 914.3,244.0"/>
<path d="M889.3,254.9C891.3,254.0 897.0,250.6 901.1,249.4C905.3,248.3 912.1,248.3 914.3,248.1"/>
<path d="M889.3,259.0C891.3,259.9 897.0,263.4 901.1,264.5C905.3,265.7 912.1,265.7 914.3,265.9"/>
<path d="M889.3,282.3C890.8,282.1 895.5,281.3 898.4,281.0C901.3,280.7 904.0,280.1 906.6,280.4C909.3,280.8 913.0,282.7 914.3,283.2"/>
<path d="M889.3,286.5C891.3,286.5 897.0,286.8 901.1,286.5C905.3,286.1 912.1,284.6 914.3,284.3"/>
<path d="M914.3,128.8L939.0,128.8"/>
<path d="M914.3,149.4L939.0,149.9"/>
<path d="M914.3,189.1C916.2,188.7 921.7,187.1 925.8,186.4C929.9,185.7 936.8,185.2 939.0,185.0"/>
<path d="M914.3,197.3L939.0,198.7"/>
<path d="M914.3,220.6C916.2,221.1 921.7,222.5 925.8,223.4C929.9,224.3 936.8,225.7 939.0,226.1"/>
<path d="M914.3,241.2C916.2,241.2 921.7,241.4 925.8,241.2C929.9,241.0 936.8,240.1 939.0,239.8"/>
<path d="M914.3,249.4C916.2,249.4 921.7,249.2 925.8,249.4C929.9,249.7 936.8,250.6 939.0,250.8"/>
<path d="M914.3,274.1C916.2,273.7 921.7,272.1 925.8,271.4C929.9,270.7 936.8,270.2 939.0,270.0"/>
<path d="M661.7,148.7C662.9,149.9 666.2,153.2 668.5,155.9C670.7,158.6 673.3,162.3 675.2,164.9C677.1,167.5 677.4,169.4 679.7,171.6C681.9,173.8 685.3,176.8 688.7,178.3C692.0,179.8 696.5,180.4 699.9,180.6C703.2,180.8 706.2,179.1 708.8,179.5C711.5,179.8 713.3,181.7 715.6,182.8C717.8,183.9 719.3,185.4 722.3,186.2C725.3,186.9 729.0,187.3 733.5,187.3C738.0,187.3 745.8,186.5 749.2,186.2C752.7,185.9 753.5,185.6 754.4,185.5"/>
<path d="M664.0,187.3C665.1,185.4 668.1,179.1 670.7,176.1C673.3,173.1 676.3,171.4 679.7,169.4C683.0,167.3 687.0,165.2 690.9,163.8C694.8,162.3 699.5,161.3 703.2,160.4C707.0,159.5 710.2,159.6 713.3,158.1C716.5,156.6 719.7,153.3 722.3,151.4C724.9,149.5 726.0,148.2 729.0,146.9C732.0,145.6 736.0,144.1 740.3,143.6C744.5,143.0 752.0,143.6 754.4,143.6"/>
<path d="M661.3,191.3C662.5,191.8 665.8,192.5 668.5,194.0C671.2,195.6 674.1,198.5 677.4,200.8C680.8,203.0 684.9,205.3 688.7,207.5C692.4,209.7 696.5,211.6 699.9,214.2C703.2,216.9 705.9,220.6 708.8,223.2C711.8,225.8 714.5,228.4 717.8,229.9C721.2,231.4 724.6,231.4 729.0,232.2C733.5,232.9 740.5,233.9 744.7,234.4C749.0,235.0 752.8,235.4 754.4,235.5"/>
<path d="M661.3,197.4C664.0,197.4 672.5,196.5 677.4,197.4C682.4,198.3 686.6,201.7 690.9,203.0C695.2,204.3 699.5,205.3 703.2,205.3C707.0,205.3 710.2,203.8 713.3,203.0C716.5,202.3 718.9,201.9 722.3,200.8C725.7,199.6 729.0,197.4 733.5,196.3C738.0,195.2 745.8,194.5 749.2,194.0C752.7,193.6 753.5,193.7 754.4,193.6"/>
<path d="M661.3,205.3C662.5,206.2 665.8,208.6 668.5,210.9C671.2,213.1 674.1,215.2 677.4,218.7C680.8,222.3 684.9,227.7 688.7,232.2C692.4,236.7 696.1,241.9 699.9,245.6C703.6,249.4 707.4,251.6 711.1,254.6C714.8,257.6 718.6,261.4 722.3,263.6C726.0,265.8 729.0,266.2 733.5,268.1C738.0,270.0 745.8,273.5 749.2,274.8C752.7,276.1 753.5,275.7 754.4,275.9"/>
<path d="M699.9,223.2C701.7,224.7 707.4,229.2 711.1,232.2C714.8,235.2 718.6,238.2 722.3,241.2C726.0,244.1 729.8,247.9 733.5,250.1C737.3,252.4 741.3,253.9 744.7,254.6C748.2,255.4 752.8,254.6 754.4,254.6"/>
<path d="M677.4,245.6C679.3,244.9 684.9,242.7 688.7,241.2C692.4,239.7 696.1,238.2 699.9,236.7C703.6,235.2 707.4,234.1 711.1,232.2C714.8,230.3 718.6,227.3 722.3,225.5C726.0,223.6 729.8,222.8 733.5,221.0C737.3,219.1 741.3,215.9 744.7,214.2C748.2,212.6 752.8,211.4 754.4,210.9"/>
<path d="M661.3,225.5C662.5,225.8 665.0,226.9 668.5,227.7C671.9,228.4 677.4,229.2 681.9,229.9C686.4,230.7 691.8,231.1 695.4,232.2C698.9,233.3 700.2,235.5 703.2,236.7C706.2,237.8 709.0,238.2 713.3,238.9C717.6,239.7 723.8,240.8 729.0,241.2C734.3,241.5 740.5,241.3 744.7,241.2C749.0,241.0 752.8,240.2 754.4,240.0"/>
<path d="M661.3,254.6C662.5,254.8 665.0,255.0 668.5,255.7C671.9,256.5 677.4,257.8 681.9,259.1C686.4,260.4 691.8,262.5 695.4,263.6C698.9,264.7 698.8,265.7 703.2,265.8C707.7,266.0 716.1,265.1 722.3,264.7C728.5,264.3 734.9,263.8 740.3,263.6C745.6,263.4 752.0,263.6 754.4,263.6"/>
</g>
<g fill="none" stroke="#ee1111" stroke-width="1.8" stroke-linejoin="round" clip-path="url(#cP3)">
<path d="M85.0,548.7C88.3,548.9 97.4,549.8 104.9,550.0C112.4,550.2 121.5,550.0 129.8,550.0C138.1,549.9 146.4,549.8 154.7,549.5C163.0,549.1 171.3,548.3 179.6,548.0C187.9,547.6 197.1,547.6 204.5,547.5C211.9,547.3 220.7,547.1 224.0,547.0"/>
<path d="M85.0,552.0C88.3,551.8 97.4,551.5 104.9,551.2C112.4,551.0 121.5,550.5 129.8,550.5C138.1,550.5 146.4,551.0 154.7,551.2C163.0,551.5 171.3,551.7 179.6,552.0C187.9,552.2 197.1,552.5 204.5,552.5C211.9,552.5 220.7,552.0 224.0,552.0"/>
<path d="M85.0,552.5C90.4,552.4 107.8,552.0 117.4,552.0C126.9,552.0 136.0,552.0 142.3,552.5C148.5,552.9 150.6,554.2 154.7,554.4C158.9,554.7 163.4,554.4 167.2,553.9C170.9,553.5 174.2,551.7 177.1,552.0C180.0,552.2 182.7,554.5 184.6,555.4C186.5,556.4 186.9,557.4 188.3,557.4C189.8,557.4 191.5,556.3 193.3,555.4C195.2,554.6 194.4,553.0 199.6,552.5C204.7,552.0 219.9,552.5 224.0,552.5"/>
<path d="M85.0,576.1C88.3,576.7 97.4,580.7 104.9,579.9C112.4,579.0 121.5,573.1 129.8,571.1C138.1,569.1 148.1,568.3 154.7,567.9C161.4,567.5 165.5,568.7 169.7,568.6C173.8,568.6 176.7,568.0 179.6,567.4C182.5,566.8 183.7,563.9 187.1,564.9C190.5,565.9 195.5,571.6 200.0,573.6C204.6,575.6 210.5,576.2 214.5,576.9C218.5,577.5 222.4,577.3 224.0,577.4"/>
<path d="M85.0,587.3C86.6,587.1 91.2,586.7 94.9,586.1C98.7,585.5 101.6,584.6 107.4,583.6C113.2,582.5 121.9,580.9 129.8,579.9C137.7,578.8 146.4,578.6 154.7,577.4C163.0,576.1 173.8,573.2 179.6,572.4C185.4,571.5 186.2,571.5 189.6,572.4C193.0,573.2 196.3,575.9 200.0,577.4C203.8,578.8 208.0,579.4 212.0,581.1C216.0,582.8 222.0,586.3 224.0,587.3"/>
<path d="M85.0,587.3C86.6,587.7 91.2,588.4 94.9,589.8C98.7,591.3 101.6,595.2 107.4,596.0C113.2,596.9 123.6,596.5 129.8,594.8C136.0,593.1 140.6,588.2 144.8,586.1C148.9,584.0 151.0,582.8 154.7,582.3C158.5,581.9 162.6,582.8 167.2,583.6C171.7,584.4 176.6,587.7 182.1,587.3C187.6,586.9 195.1,581.7 200.0,581.1C205.0,580.5 208.0,582.5 212.0,583.6C216.0,584.6 222.0,586.7 224.0,587.3"/>
<path d="M85.0,589.8C87.5,590.2 95.8,591.5 99.9,592.3C104.1,593.1 105.7,594.2 109.9,594.8C114.0,595.4 119.4,596.9 124.8,596.0C130.2,595.2 137.3,591.5 142.3,589.8C147.2,588.2 150.2,586.5 154.7,586.1C159.3,585.7 164.7,586.5 169.7,587.3C174.6,588.2 179.5,590.9 184.6,591.1C189.7,591.3 195.5,589.2 200.0,588.6C204.6,587.9 208.0,587.5 212.0,587.3C216.0,587.1 222.0,587.3 224.0,587.3"/>
<path d="M107.4,596.0C109.1,596.7 111.5,598.7 117.4,599.8C123.2,600.8 134.0,602.1 142.3,602.3C150.6,602.5 160.1,601.9 167.2,601.0C174.2,600.2 179.1,598.5 184.6,597.3C190.1,596.0 195.5,594.6 200.0,593.5C204.6,592.5 208.0,592.1 212.0,591.1C216.0,590.0 222.0,587.9 224.0,587.3"/>
<path d="M85.0,612.2C86.6,610.6 91.2,605.0 94.9,602.3C98.7,599.6 105.3,597.1 107.4,596.0"/>
<path d="M85.0,612.2C88.3,612.0 97.4,611.4 104.9,611.0C112.4,610.6 121.5,609.7 129.8,609.7C138.1,609.7 146.4,610.6 154.7,611.0C163.0,611.4 173.8,612.4 179.6,612.2C185.4,612.0 186.2,611.6 189.6,609.7C193.0,607.9 196.3,601.8 200.0,601.0C203.8,600.3 208.0,603.4 212.0,605.3C216.0,607.1 222.0,611.1 224.0,612.2"/>
<path d="M85.0,612.2C88.3,611.8 97.4,610.4 104.9,609.7C112.4,609.1 121.5,608.7 129.8,608.5C138.1,608.3 147.2,608.3 154.7,608.5C162.2,608.7 169.2,610.2 174.6,609.7C180.0,609.3 182.9,606.8 187.1,606.0C191.3,605.2 195.9,604.3 200.0,604.8C204.2,605.2 208.0,607.2 212.0,608.5C216.0,609.7 222.0,611.6 224.0,612.2"/>
<path d="M154.7,637.1C156.8,634.6 163.0,625.5 167.2,622.2C171.3,618.9 175.9,618.2 179.6,617.2C183.4,616.2 186.2,616.0 189.6,616.0C193.0,616.0 196.3,617.4 200.0,617.2C203.8,617.0 208.0,615.6 212.0,614.7C216.0,613.9 222.0,612.6 224.0,612.2"/>
<path d="M174.6,614.7C176.3,614.7 180.4,613.1 184.6,614.7C188.8,616.4 195.5,623.2 200.0,624.7C204.6,626.1 208.0,625.5 212.0,623.4C216.0,621.4 222.0,614.1 224.0,612.2"/>
<path d="M85.0,642.1C86.6,642.9 91.1,645.6 94.9,647.1C98.8,648.6 104.2,651.2 107.9,650.8C111.6,650.4 113.7,647.5 117.4,644.6C121.0,641.7 125.7,635.1 129.8,633.4C134.0,631.7 138.1,634.0 142.3,634.6C146.4,635.3 150.6,636.1 154.7,637.1C158.9,638.2 163.0,639.6 167.2,640.9C171.3,642.1 175.9,644.6 179.6,644.6C183.4,644.6 186.2,641.9 189.6,640.9C193.0,639.8 196.3,638.2 200.0,638.4C203.8,638.6 208.0,641.5 212.0,642.1C216.0,642.7 222.0,642.1 224.0,642.1"/>
<path d="M154.7,637.1C157.2,638.0 165.5,640.5 169.7,642.1C173.8,643.8 175.9,646.2 179.6,647.1C183.4,648.0 188.7,647.6 192.1,647.6C195.5,647.6 196.7,647.6 200.0,647.1C203.4,646.6 208.0,645.4 212.0,644.6C216.0,643.8 222.0,642.5 224.0,642.1"/>
<path d="M85.0,733.8C86.2,730.1 90.0,718.8 92.5,711.9C94.9,704.9 97.4,697.8 99.9,691.9C102.5,686.0 105.0,679.6 107.9,676.5C110.8,673.4 113.7,675.2 117.4,673.3C121.0,671.3 125.7,667.2 129.8,664.5C134.0,661.8 138.1,658.9 142.3,657.1C146.4,655.2 150.2,654.2 154.7,653.3C159.3,652.5 164.7,652.1 169.7,652.1C174.6,652.1 180.5,652.5 184.6,653.3C188.8,654.2 191.2,652.7 194.6,657.1C197.9,661.4 201.2,670.8 204.5,679.5C207.9,688.2 211.3,700.3 214.5,709.4C217.7,718.4 222.4,729.7 224.0,733.8"/>
<path d="M85.0,733.8C86.6,729.3 92.0,714.3 94.9,706.9C97.8,699.5 100.3,694.5 102.4,689.4C104.6,684.4 107.0,678.6 107.9,676.5"/>
<path d="M85.0,612.2C86.2,614.7 90.0,621.8 92.5,627.2C94.9,632.6 97.8,639.2 99.9,644.6C102.0,650.0 103.6,654.2 104.9,659.6C106.2,664.9 107.4,673.7 107.9,676.5"/>
<path d="M154.7,652.1C156.8,652.5 163.0,653.3 167.2,654.6C171.3,655.8 175.5,657.5 179.6,659.6C183.8,661.6 188.3,662.0 192.1,667.0C195.8,672.0 198.3,681.6 202.0,689.4C205.8,697.3 210.8,707.0 214.5,714.3C218.1,721.7 222.4,730.5 224.0,733.8"/>
<path d="M154.7,654.6C158.0,655.0 169.2,655.4 174.6,657.1C180.0,658.7 183.4,660.0 187.1,664.5C190.8,669.1 193.3,676.6 197.1,684.5C200.8,692.3 205.0,703.6 209.5,711.9C214.0,720.1 221.6,730.1 224.0,733.8"/>
<path d="M223.7,547.0C228.0,546.8 243.0,546.2 249.8,546.2C256.7,546.2 261.4,546.8 264.8,547.0C268.1,547.2 268.9,547.4 269.7,547.5"/>
<path d="M223.7,552.0C228.0,551.8 243.0,551.5 249.8,551.2C256.7,551.0 261.4,550.6 264.8,550.5C268.1,550.3 268.9,550.5 269.7,550.5"/>
<path d="M223.7,552.0C228.0,552.0 244.6,551.2 249.8,552.0C255.0,552.7 253.1,555.2 254.8,556.2C256.5,557.2 258.1,557.9 259.8,557.9C261.4,557.9 263.1,557.2 264.8,556.2C266.4,555.2 268.9,552.7 269.7,552.0"/>
<path d="M223.7,577.4C225.9,577.2 233.0,577.4 237.4,576.1C241.7,574.9 246.1,571.8 249.8,569.9C253.5,567.9 257.3,565.0 259.8,564.4C262.3,563.8 263.1,565.6 264.8,566.2C266.4,566.7 268.9,567.6 269.7,567.9"/>
<path d="M223.7,587.3C225.9,586.7 233.0,585.0 237.4,583.6C241.7,582.1 245.7,580.3 249.8,578.6C254.0,576.9 258.9,574.9 262.3,573.6C265.6,572.4 268.5,571.5 269.7,571.1"/>
<path d="M223.7,587.3C225.9,588.2 233.0,590.9 237.4,592.3C241.7,593.8 245.7,594.8 249.8,596.0C254.0,597.3 258.9,598.9 262.3,599.8C265.6,600.6 268.5,600.8 269.7,601.0"/>
<path d="M223.7,587.3C225.9,587.7 233.0,588.8 237.4,589.8C241.7,590.9 245.7,593.1 249.8,593.5C254.0,594.0 258.9,593.1 262.3,592.3C265.6,591.5 268.5,589.2 269.7,588.6"/>
<path d="M223.7,587.3C225.9,586.8 233.0,585.2 237.4,584.3C241.7,583.4 245.7,582.6 249.8,581.8C254.0,581.1 258.9,580.4 262.3,579.9C265.6,579.3 268.5,578.8 269.7,578.6"/>
<path d="M223.7,612.2C225.9,611.6 233.0,609.7 237.4,608.5C241.7,607.3 245.7,605.5 249.8,605.3C254.0,605.0 258.9,607.0 262.3,607.2C265.6,607.5 268.5,606.8 269.7,606.7"/>
<path d="M223.7,612.2C225.9,613.1 233.0,616.2 237.4,617.2C241.7,618.2 245.2,618.9 249.8,618.5C254.4,618.0 261.4,615.3 264.8,614.7C268.1,614.1 268.9,614.7 269.7,614.7"/>
<path d="M223.7,612.2C225.5,613.9 231.3,619.9 234.9,622.2C238.4,624.5 241.5,625.9 244.8,625.9C248.2,625.9 251.5,623.6 254.8,622.2C258.1,620.8 262.3,618.7 264.8,617.7C267.2,616.7 268.9,616.3 269.7,616.0"/>
<path d="M223.7,612.2C225.9,611.2 233.0,607.7 237.4,606.0C241.7,604.3 245.7,602.9 249.8,602.3C254.0,601.6 258.9,602.1 262.3,602.3C265.6,602.5 268.5,603.3 269.7,603.5"/>
<path d="M223.7,642.1C225.9,641.5 233.0,639.2 237.4,638.4C241.7,637.6 245.7,636.1 249.8,637.1C254.0,638.2 258.9,642.7 262.3,644.6C265.6,646.5 268.5,647.7 269.7,648.3"/>
<path d="M223.7,642.1C225.9,642.7 233.0,644.6 237.4,645.9C241.7,647.1 245.7,649.8 249.8,649.6C254.0,649.4 258.9,646.1 262.3,644.6C265.6,643.2 268.5,641.5 269.7,640.9"/>
<path d="M223.7,733.8C224.7,728.9 227.6,713.4 229.9,704.4C232.2,695.3 234.9,686.9 237.4,679.5C239.9,672.0 241.9,663.9 244.8,659.6C247.7,655.2 250.6,654.4 254.8,653.3C258.9,652.3 267.2,653.3 269.7,653.3"/>
<path d="M223.7,733.8C224.5,730.5 226.8,720.9 228.6,714.3C230.5,707.8 232.6,700.2 234.9,694.4C237.2,688.6 239.0,683.6 242.3,679.5C245.7,675.3 250.2,672.4 254.8,669.5C259.4,666.6 267.2,663.3 269.7,662.0"/>
<path d="M223.7,733.8C224.3,731.4 225.9,724.6 227.4,719.3C228.9,714.0 230.3,707.3 232.4,701.9C234.5,696.5 236.9,691.5 239.9,686.9C242.8,682.4 246.1,678.2 249.8,674.5C253.5,670.8 258.9,666.7 262.3,664.5C265.6,662.4 268.5,662.0 269.7,661.5"/>
<path d="M270.0,547.5C272.5,547.6 278.3,547.6 284.9,548.0C291.5,548.4 300.7,549.5 309.8,550.0C318.9,550.4 329.3,550.5 339.7,550.5C350.1,550.5 362.5,550.5 372.1,550.0C381.6,549.5 388.7,548.1 397.0,547.5C405.3,546.8 412.1,546.2 421.9,546.2C431.6,546.2 449.9,547.3 455.5,547.5"/>
<path d="M270.0,550.5C272.5,550.6 278.3,551.2 284.9,551.2C291.5,551.2 300.7,550.6 309.8,550.5C318.9,550.3 329.3,550.5 339.7,550.5C350.1,550.5 362.5,550.5 372.1,550.5C381.6,550.5 388.7,550.5 397.0,550.5C405.3,550.4 412.1,550.3 421.9,550.0C431.6,549.7 449.9,548.9 455.5,548.7"/>
<path d="M270.0,552.0C272.5,552.0 280.8,551.4 284.9,552.0C289.1,552.5 291.5,555.4 294.9,555.4C298.2,555.5 300.3,553.2 304.8,552.5C309.4,551.7 313.1,551.4 322.3,551.2C331.4,551.0 348.4,551.2 359.6,551.2C370.8,551.2 382.9,550.7 389.5,551.2C396.2,551.7 396.2,553.8 399.5,554.4C402.8,555.1 406.1,554.4 409.4,554.9C412.8,555.5 416.5,557.9 419.4,557.9C422.3,557.9 424.4,556.1 426.9,554.9C429.4,553.8 429.6,551.8 434.3,551.2C439.1,550.6 452.0,551.2 455.5,551.2"/>
<path d="M270.0,567.9C273.7,567.9 285.7,567.1 292.4,567.9C299.0,568.6 304.4,570.4 309.8,572.4C315.2,574.4 319.8,578.0 324.8,579.9C329.7,581.7 334.7,583.6 339.7,583.6C344.7,583.6 349.7,581.7 354.6,579.9C359.6,578.0 364.6,574.2 369.6,572.4C374.6,570.5 379.6,569.4 384.5,568.6C389.5,567.9 394.5,568.5 399.5,567.9C404.5,567.3 409.4,564.2 414.4,564.9C419.4,565.7 424.4,570.3 429.4,572.4C434.3,574.5 440.0,576.7 444.3,577.4C448.7,578.0 453.6,576.3 455.5,576.1"/>
<path d="M270.0,571.1C273.7,570.9 286.6,568.2 292.4,569.9C298.2,571.5 301.3,577.2 304.8,581.1C308.4,585.0 310.2,591.1 313.5,593.5C316.9,596.0 320.4,595.3 324.8,596.0C329.1,596.7 334.7,597.8 339.7,597.8C344.7,597.8 350.1,596.7 354.6,596.0C359.2,595.3 363.4,595.4 367.1,593.5C370.8,591.7 373.3,586.9 377.1,584.8C380.8,582.8 384.9,581.9 389.5,581.1C394.1,580.3 399.5,579.6 404.5,579.9C409.4,580.1 414.4,581.3 419.4,582.3C424.4,583.4 428.3,585.2 434.3,586.1C440.4,586.9 452.0,587.1 455.5,587.3"/>
<path d="M270.0,578.6C272.5,578.8 280.8,579.4 284.9,579.9C289.1,580.3 290.7,579.9 294.9,581.1C299.0,582.3 304.8,585.2 309.8,587.3C314.8,589.4 319.8,592.0 324.8,593.5C329.7,595.1 334.7,596.8 339.7,596.8C344.7,596.8 349.7,594.9 354.6,593.5C359.6,592.2 364.6,589.6 369.6,588.6C374.6,587.5 379.6,587.5 384.5,587.3C389.5,587.1 394.5,587.1 399.5,587.3C404.5,587.5 409.4,588.2 414.4,588.6C419.4,589.0 422.5,589.8 429.4,589.8C436.2,589.8 451.2,588.8 455.5,588.6"/>
<path d="M270.0,588.6C272.5,588.4 280.3,587.3 284.9,587.3C289.5,587.3 293.2,587.5 297.4,588.6C301.5,589.6 305.7,592.1 309.8,593.5C314.0,595.0 317.3,596.5 322.3,597.3C327.2,598.1 335.1,597.9 339.7,598.5C344.3,599.2 346.3,600.2 349.7,601.0C353.0,601.9 353.8,602.5 359.6,603.5C365.4,604.5 376.2,606.4 384.5,607.2C392.8,608.1 402.0,608.8 409.4,608.5C416.9,608.2 423.6,606.3 429.4,605.3C435.2,604.2 440.0,603.0 444.3,602.3C448.7,601.6 453.6,601.2 455.5,601.0"/>
<path d="M270.0,601.0C272.5,600.8 280.3,599.8 284.9,599.8C289.5,599.8 292.4,601.0 297.4,601.0C302.3,601.0 309.4,600.3 314.8,599.8C320.2,599.3 325.6,598.2 329.7,598.0C333.9,597.8 336.8,597.8 339.7,598.5C342.6,599.2 343.0,600.8 347.2,602.3C351.3,603.7 357.6,606.0 364.6,607.2C371.7,608.5 382.0,609.1 389.5,609.7C397.0,610.4 403.6,610.2 409.4,611.0C415.3,611.8 420.2,613.3 424.4,614.7C428.5,616.2 431.0,618.8 434.3,619.7C437.7,620.6 440.8,621.4 444.3,620.2C447.8,619.0 453.6,613.6 455.5,612.2"/>
<path d="M270.0,603.5C272.5,603.6 280.3,604.5 284.9,604.3C289.5,604.1 293.2,602.8 297.4,602.3C301.5,601.7 304.4,601.4 309.8,601.0C315.2,600.6 324.8,600.2 329.7,599.8C334.7,599.4 337.2,598.6 339.7,598.5C342.2,598.4 341.4,598.4 344.7,599.3C348.0,600.1 353.0,602.5 359.6,603.5C366.3,604.5 377.1,605.0 384.5,605.3C392.0,605.5 399.5,605.0 404.5,605.3C409.4,605.5 410.3,607.0 414.4,606.7C418.6,606.5 424.4,603.8 429.4,603.5C434.3,603.2 440.0,603.3 444.3,604.8C448.7,606.2 453.6,611.0 455.5,612.2"/>
<path d="M270.0,606.7C272.5,607.5 278.3,610.3 284.9,611.0C291.5,611.7 301.5,610.9 309.8,611.0C318.1,611.1 326.4,611.5 334.7,611.7C343.0,611.9 351.3,612.1 359.6,612.2C367.9,612.3 376.2,612.2 384.5,612.2C392.8,612.2 402.0,612.2 409.4,612.2C416.9,612.2 421.7,612.2 429.4,612.2C437.0,612.2 451.2,612.2 455.5,612.2"/>
<path d="M270.0,614.7C271.6,615.6 276.2,616.0 279.9,619.7C283.7,623.4 287.4,634.6 292.4,637.1C297.4,639.6 305.2,635.3 309.8,634.6C314.4,634.0 316.0,631.3 319.8,633.4C323.5,635.5 328.9,644.2 332.2,647.1C335.6,650.0 337.2,650.8 339.7,650.8C342.2,650.8 343.9,649.8 347.2,647.1C350.5,644.4 355.5,636.9 359.6,634.6C363.8,632.4 367.5,633.0 372.1,633.4C376.6,633.8 382.5,638.6 387.0,637.1C391.6,635.7 395.7,627.8 399.5,624.7C403.2,621.6 405.3,619.7 409.4,618.5C413.6,617.2 419.4,617.0 424.4,617.2C429.4,617.4 434.1,620.5 439.3,619.7C444.5,618.9 452.8,613.5 455.5,612.2"/>
<path d="M270.0,640.9C271.6,640.7 276.0,640.2 279.9,639.6C283.9,639.1 288.6,637.6 293.6,637.6C298.6,637.6 304.6,638.9 309.8,639.6C315.0,640.4 319.8,641.7 324.8,642.1C329.7,642.5 333.9,642.1 339.7,642.1C345.5,642.1 353.8,642.3 359.6,642.1C365.4,641.9 370.0,641.5 374.6,640.9C379.1,640.2 382.9,638.2 387.0,638.4C391.2,638.6 395.7,641.4 399.5,642.1C403.2,642.8 405.7,643.2 409.4,642.6C413.2,642.0 417.7,638.9 421.9,638.4C426.0,637.9 430.6,639.0 434.3,639.6C438.1,640.2 440.8,641.7 444.3,642.1C447.8,642.5 453.6,642.1 455.5,642.1"/>
<path d="M270.0,653.3C271.6,653.4 276.2,653.9 279.9,654.1C283.7,654.2 286.6,652.3 292.4,654.1C298.2,655.8 309.0,661.5 314.8,664.5C320.6,667.5 323.1,670.0 327.2,672.0C331.4,674.0 335.6,676.5 339.7,676.5C343.9,676.5 348.0,674.0 352.2,672.0C356.3,670.0 359.0,667.5 364.6,664.5C370.2,661.5 380.0,655.7 385.8,654.1C391.6,652.4 395.1,654.1 399.5,654.6C403.8,655.1 408.2,652.9 411.9,657.1C415.7,661.2 418.2,671.6 421.9,679.5C425.6,687.4 428.7,695.3 434.3,704.4C440.0,713.4 452.0,728.9 455.5,733.8"/>
<path d="M270.0,661.5C272.0,660.8 278.7,658.3 282.4,657.1C286.2,655.8 290.7,654.6 292.4,654.1"/>
<path d="M270.0,648.3C272.0,648.8 278.7,650.0 282.4,650.8C286.2,651.7 290.7,652.9 292.4,653.3"/>
<path d="M385.8,654.1C388.9,654.6 399.7,655.7 404.5,657.1C409.2,658.4 410.7,657.5 414.4,662.0C418.2,666.6 422.7,676.6 426.9,684.5C431.0,692.3 434.6,701.1 439.3,709.4C444.1,717.6 452.8,729.7 455.5,733.8"/>
<path d="M385.8,655.1C389.7,654.8 403.8,653.4 409.4,653.3C415.0,653.2 415.3,651.0 419.4,654.6C423.6,658.1 430.2,666.6 434.3,674.5C438.5,682.4 440.8,692.0 444.3,701.9C447.8,711.8 453.6,728.5 455.5,733.8"/>
<path d="M411.9,647.1C414.8,647.1 424.0,647.7 429.4,647.1C434.8,646.5 440.0,644.2 444.3,643.4C448.7,642.5 453.6,642.3 455.5,642.1"/>
</g>
<g fill="none" stroke="#ee1111" stroke-width="1.8" stroke-linejoin="round" clip-path="url(#cP4)">
<path d="M704.2,586.7C706.3,586.5 713.1,586.2 717.3,585.4C721.6,584.7 724.9,583.3 729.8,582.3C734.7,581.4 744.0,580.3 746.8,579.8"/>
<path d="M704.2,587.1C706.3,586.9 713.1,586.4 717.3,586.1C721.6,585.7 724.9,585.2 729.8,584.8C734.7,584.4 744.0,583.8 746.8,583.6"/>
<path d="M703.7,607.2C704.9,606.4 708.8,603.9 711.1,602.2C713.4,600.6 715.3,598.5 717.3,597.3C719.4,596.0 721.5,594.9 723.6,594.8C725.6,594.7 727.7,595.8 729.8,596.6C731.9,597.5 733.9,598.8 736.0,599.8C738.1,600.7 740.4,601.8 742.2,602.2C744.0,602.7 746.1,602.6 746.8,602.6"/>
<path d="M703.0,624.7C704.4,624.3 707.7,623.2 711.1,622.8C714.5,622.4 719.4,622.5 723.6,622.2C727.7,621.8 732.1,621.2 736.0,620.9C739.9,620.6 745.0,620.4 746.8,620.3"/>
<path d="M703.0,624.7C705.4,624.5 712.9,623.9 717.3,623.7C721.8,623.4 724.9,623.6 729.8,623.4C734.7,623.3 744.0,622.9 746.8,622.8"/>
<path d="M566.6,485.6C570.6,485.2 583.5,484.0 590.4,483.4C597.3,482.8 601.0,482.6 608.1,482.0C615.2,481.4 625.2,479.9 632.9,479.9C640.6,479.9 648.3,481.1 654.2,482.0C660.1,483.0 663.7,484.7 668.4,485.6C673.1,486.4 676.7,486.7 682.6,487.0C688.5,487.2 696.8,487.2 703.8,487.0C710.9,486.7 717.9,486.2 725.1,485.6C732.3,485.0 743.4,483.8 747.1,483.4"/>
<path d="M566.6,487.0C570.6,486.7 583.5,486.0 590.4,485.6C597.3,485.2 601.0,485.0 608.1,484.5C615.2,484.0 625.2,482.7 632.9,482.7C640.6,482.7 648.3,483.8 654.2,484.5C660.1,485.2 663.7,486.5 668.4,487.0C673.1,487.5 680.2,487.3 682.6,487.3"/>
<path d="M566.6,488.0C569.4,488.6 578.1,489.8 583.3,491.6C588.4,493.4 592.1,496.0 597.5,498.7C602.8,501.3 609.3,504.7 615.2,507.6C621.1,510.4 627.6,515.7 632.9,515.7C638.2,515.7 642.4,511.0 647.1,507.6C651.8,504.1 656.6,498.2 661.3,495.1C666.0,492.1 671.9,490.4 675.5,489.1C679.0,487.8 681.4,487.6 682.6,487.3"/>
<path d="M566.6,489.1C569.4,489.8 578.1,491.5 583.3,493.4C588.4,495.3 592.1,497.6 597.5,500.5C602.8,503.3 609.3,508.0 615.2,510.4C621.1,512.8 627.6,515.7 632.9,514.6C638.2,513.6 641.8,507.8 647.1,504.0C652.4,500.2 658.9,494.3 664.8,491.6C670.7,488.9 679.6,488.6 682.6,488.0"/>
<path d="M703.8,487.0C706.2,487.8 713.3,489.6 718.0,491.6C722.8,493.5 727.4,496.9 732.2,498.7C737.1,500.5 744.6,501.6 747.1,502.2"/>
<path d="M566.6,569.6C569.4,569.3 578.1,571.1 583.3,567.8C588.4,564.6 593.3,555.1 597.5,550.1C601.6,545.1 604.6,540.4 608.1,537.7C611.6,535.0 614.6,535.2 618.7,534.1C622.9,533.1 628.2,529.6 632.9,531.7C637.7,533.7 642.4,541.1 647.1,546.6C651.8,552.0 655.4,560.2 661.3,564.3C667.2,568.4 675.5,570.2 682.6,571.4C689.7,572.6 697.9,572.0 703.8,571.4C709.8,570.8 713.3,571.4 718.0,567.8C722.8,564.3 727.4,554.8 732.2,550.1C737.1,545.4 744.6,541.2 747.1,539.5"/>
<path d="M566.6,570.7C569.4,570.6 578.1,572.5 583.3,570.0C588.4,567.4 593.3,559.4 597.5,555.4C601.6,551.4 604.0,548.2 608.1,545.9C612.2,543.5 618.1,543.2 622.3,541.2C626.4,539.3 628.8,532.7 632.9,534.1C637.1,535.6 641.8,544.4 647.1,550.1C652.4,555.8 658.9,564.9 664.8,568.5C670.7,572.2 679.6,571.5 682.6,572.1"/>
<path d="M566.6,731.0C568.2,730.1 572.8,728.6 576.2,725.6C579.6,722.7 583.3,719.4 586.8,713.2C590.4,707.0 594.5,695.8 597.5,688.4C600.4,681.0 602.5,672.6 604.6,668.9C606.6,665.2 607.5,668.5 609.9,666.4C612.2,664.3 615.8,661.1 618.7,656.5C621.7,651.9 624.9,642.4 627.6,638.8C630.3,635.1 632.0,635.1 634.7,634.5C637.4,633.9 640.9,632.1 643.6,635.2C646.2,638.3 648.3,644.7 650.7,652.9C653.0,661.2 654.8,674.2 657.7,684.9C660.7,695.5 664.2,709.0 668.4,716.8C672.5,724.6 678.4,729.9 682.6,731.7C686.7,733.4 689.7,731.1 693.2,727.4C696.8,723.7 702.1,712.6 703.8,709.7"/>
<path d="M682.6,659.0C683.2,660.3 684.6,662.8 686.1,667.1C687.6,671.4 689.4,678.9 691.4,684.9C693.5,690.8 696.5,698.5 698.5,702.6C700.6,706.7 701.8,708.8 703.8,709.7C705.9,710.6 708.3,709.7 710.9,707.9C713.6,706.1 717.4,704.1 719.8,699.0C722.2,694.0 723.6,685.4 725.1,677.8C726.6,670.1 726.9,660.9 728.7,652.9C730.4,645.0 732.7,634.6 735.8,629.9C738.8,625.2 745.2,625.5 747.1,624.6"/>
<path d="M747.1,482.0C751.2,481.8 764.2,480.5 771.9,481.0C779.6,481.4 785.0,483.3 793.2,484.5C801.3,485.7 812.0,487.8 820.9,488.0C829.7,488.3 839.2,486.9 846.4,486.3C853.6,485.7 857.7,485.1 864.1,484.5C870.5,483.9 877.6,483.3 884.7,482.7C891.8,482.1 898.0,481.5 906.7,481.0C915.4,480.4 931.8,479.5 936.8,479.2"/>
<path d="M747.1,502.2C748.9,503.1 753.6,505.4 757.7,507.6C761.9,509.7 767.2,515.9 771.9,515.4C776.6,514.8 780.8,508.0 786.1,504.0C791.4,500.0 798.0,494.3 803.8,491.6C809.6,488.9 814.9,487.8 820.9,488.0C826.8,488.3 833.3,491.3 839.3,493.4C845.3,495.4 852.9,499.0 857.0,500.5C861.2,501.9 859.5,501.8 864.1,502.2C868.7,502.7 878.8,502.4 884.7,503.3C890.6,504.2 894.1,505.7 899.6,507.6C905.0,509.4 911.1,513.3 917.3,514.6C923.5,516.0 933.6,515.5 936.8,515.7"/>
<path d="M864.1,502.2C865.9,501.9 871.3,500.6 874.8,500.5C878.2,500.3 881.1,500.6 884.7,501.2C888.2,501.8 892.4,502.6 896.0,504.0C899.7,505.4 903.1,507.6 906.7,509.3C910.2,511.1 915.5,513.8 917.3,514.6"/>
<path d="M884.7,482.7C888.3,482.6 898.0,482.3 906.7,482.0C915.4,481.7 931.8,481.1 936.8,481.0"/>
<path d="M747.1,539.5C748.9,539.2 753.6,539.0 757.7,537.7C761.9,536.4 767.2,530.2 771.9,531.7C776.6,533.1 781.4,540.8 786.1,546.6C790.8,552.3 794.5,561.9 800.3,566.1C806.1,570.2 814.9,570.8 820.9,571.4C826.8,572.0 831.5,572.0 835.7,569.6C840.0,567.2 842.8,561.6 846.4,557.2C849.9,552.8 854.1,546.3 857.0,543.0C860.0,539.8 859.5,539.5 864.1,537.7C868.7,535.9 878.2,533.3 884.7,532.4C891.2,531.5 897.7,532.5 903.1,532.4C908.6,532.3 911.7,531.8 917.3,531.7C922.9,531.5 933.6,531.7 936.8,531.7"/>
<path d="M864.1,537.7C865.9,538.3 871.3,540.4 874.8,541.2C878.2,542.1 881.1,543.0 884.7,543.0C888.2,543.0 892.4,542.4 896.0,541.2C899.7,540.1 903.1,537.4 906.7,535.9C910.2,534.4 915.5,533.0 917.3,532.4"/>
<path d="M747.1,580.2C749.5,580.0 757.1,579.7 761.3,578.5C765.4,577.3 767.2,573.5 771.9,573.2C776.6,572.9 783.1,574.9 789.6,576.7C796.1,578.5 803.8,582.3 810.9,583.8C818.0,585.3 824.5,585.6 832.2,585.6C839.9,585.6 849.9,585.0 857.0,583.8C864.1,582.6 869.4,579.7 874.8,578.5C880.1,577.3 883.6,577.3 888.9,576.7C894.3,576.1 900.8,574.6 906.7,574.9C912.6,575.2 919.4,577.6 924.4,578.5C929.4,579.4 934.7,580.0 936.8,580.2"/>
<path d="M747.1,583.8C751.2,583.5 764.2,581.7 771.9,582.0C779.6,582.3 785.0,584.7 793.2,585.6C801.3,586.5 812.0,587.3 820.9,587.3C829.7,587.3 839.2,586.5 846.4,585.6C853.6,584.7 858.2,582.6 864.1,582.0C870.0,581.4 875.3,582.3 881.8,582.0C888.3,581.7 894.0,580.2 903.1,580.2C912.3,580.2 931.2,581.7 936.8,582.0"/>
<path d="M747.1,599.8C749.5,599.5 757.1,598.5 761.3,598.0C765.4,597.5 766.6,596.3 771.9,596.9C777.2,597.5 786.7,599.9 793.2,601.5C799.7,603.2 806.3,606.1 810.9,606.8C815.5,607.6 817.3,607.6 820.9,606.1C824.4,604.7 828.5,599.6 832.2,598.0C835.9,596.3 838.7,595.9 842.8,596.2C847.0,596.5 851.7,598.9 857.0,599.8C862.3,600.6 868.3,601.5 874.8,601.5C881.3,601.5 888.9,600.3 896.0,599.8C903.1,599.2 910.5,597.7 917.3,598.0C924.1,598.3 933.6,600.9 936.8,601.5"/>
<path d="M747.1,622.8C749.5,621.9 757.1,618.7 761.3,617.5C765.4,616.3 766.6,615.7 771.9,615.7C777.2,615.7 787.3,616.0 793.2,617.5C799.1,619.0 802.8,623.1 807.4,624.6C812.0,626.1 814.9,626.3 820.9,626.3C826.8,626.3 835.6,625.2 842.8,624.6C850.0,624.0 857.1,623.1 864.1,622.8C871.1,622.5 878.2,622.8 884.7,622.8C891.2,622.8 897.7,622.8 903.1,622.8C908.6,622.8 911.7,623.4 917.3,622.8C922.9,622.2 933.6,619.8 936.8,619.3"/>
<path d="M747.1,624.6C749.5,625.2 757.1,626.9 761.3,628.1C765.4,629.3 768.4,631.7 771.9,631.7C775.5,631.7 779.0,629.9 782.6,628.1C786.1,626.3 789.1,625.2 793.2,621.0C797.3,616.9 802.8,608.3 807.4,603.3C812.0,598.3 816.1,593.8 820.9,590.9C825.6,587.9 828.5,586.7 835.7,585.6C843.0,584.4 856.4,583.2 864.1,583.8C871.8,584.4 877.1,586.7 881.8,589.1C886.6,591.5 890.7,596.5 892.5,598.0"/>
<path d="M771.9,622.8C774.3,623.4 782.6,624.3 786.1,626.3C789.6,628.4 791.7,631.4 793.2,635.2C794.7,639.1 794.4,644.7 795.0,649.4C795.6,654.1 795.6,657.7 796.7,663.6C797.9,669.5 799.7,678.4 802.1,684.9C804.4,691.4 807.8,698.5 810.9,702.6C814.1,706.7 817.3,709.7 820.9,709.7C824.4,709.7 829.1,706.7 832.2,702.6C835.3,698.5 837.5,691.4 839.3,684.9C841.1,678.4 841.7,670.7 842.8,663.6C844.0,656.5 844.6,648.2 846.4,642.3C848.2,636.4 850.5,631.4 853.5,628.1C856.4,624.9 862.3,623.7 864.1,622.8"/>
<path d="M864.1,622.8C865.9,621.3 871.3,617.8 874.8,613.9C878.2,610.1 881.1,605.1 884.7,599.8C888.2,594.4 891.8,586.7 896.0,582.0C900.3,577.3 905.5,573.7 910.2,571.4C914.9,569.0 920.0,568.4 924.4,567.8C928.8,567.2 934.7,567.8 936.8,567.8"/>
<path d="M864.1,582.0C865.9,583.2 871.3,586.5 874.8,589.1C878.2,591.8 881.1,594.4 884.7,598.0C888.2,601.5 892.4,606.5 896.0,610.4C899.7,614.2 903.1,618.1 906.7,621.0C910.2,624.0 912.3,625.2 917.3,628.1C922.3,631.1 933.6,637.0 936.8,638.8"/>
<path d="M864.1,624.6C865.3,626.9 868.8,634.0 871.2,638.8C873.6,643.5 876.2,648.5 878.3,652.9C880.4,657.4 881.8,664.8 883.6,665.4C885.4,665.9 887.5,660.3 888.9,656.5C890.4,652.6 890.1,648.2 892.5,642.3C894.8,636.4 899.0,625.8 903.1,621.0C907.3,616.3 911.7,615.7 917.3,613.9C922.9,612.2 933.6,611.0 936.8,610.4"/>
<path d="M864.1,622.8C865.9,624.9 871.3,632.6 874.8,635.2C878.2,637.9 881.7,639.3 884.7,638.8C887.6,638.2 889.4,636.4 892.5,631.7C895.6,626.9 899.6,616.9 903.1,610.4C906.7,603.9 910.2,598.0 913.8,592.7C917.3,587.3 920.6,583.2 924.4,578.5C928.2,573.7 934.7,566.7 936.8,564.3"/>
<path d="M884.7,599.8C886.6,600.6 891.8,603.3 896.0,605.1C900.3,606.8 905.5,608.9 910.2,610.4C914.9,611.9 920.0,612.8 924.4,613.9C928.8,615.1 934.7,616.9 936.8,617.5"/>
<path d="M874.8,578.5C876.4,580.5 881.1,587.3 884.7,590.9C888.2,594.4 892.4,598.0 896.0,599.8C899.7,601.5 901.9,601.5 906.7,601.5C911.4,601.5 919.4,600.6 924.4,599.8C929.4,598.9 934.7,596.8 936.8,596.2"/>
<path d="M906.7,571.4C908.4,571.1 913.8,570.5 917.3,569.6C920.9,568.7 924.7,567.2 927.9,566.1C931.2,564.9 935.3,563.1 936.8,562.5"/>
<path d="M601.2,603.2C602.1,602.3 604.7,600.3 606.5,597.9C608.2,595.5 609.9,592.3 611.7,588.8C613.4,585.3 615.0,580.5 616.9,577.0C618.9,573.5 620.8,570.4 623.5,567.8C626.1,565.3 629.8,562.7 632.6,562.0C635.4,561.2 637.4,561.9 640.5,563.3C643.5,564.7 647.4,568.2 650.9,570.5C654.4,572.8 657.7,575.3 661.4,577.0C665.1,578.7 669.0,579.6 673.2,580.9C677.3,582.2 681.1,584.0 686.2,584.8C691.4,585.7 701.2,585.9 704.1,586.2"/>
<path d="M566.6,582.2C568.0,582.0 571.5,581.4 575.1,580.9C578.7,580.5 583.8,579.8 588.2,579.6C592.5,579.4 596.9,579.4 601.2,579.6C605.6,579.8 610.6,580.3 614.3,580.9C618.0,581.6 620.4,581.7 623.5,583.5C626.5,585.4 629.8,591.6 632.6,592.0C635.4,592.5 637.4,587.5 640.5,586.2C643.5,584.8 647.4,584.8 650.9,584.2C654.4,583.5 657.7,583.0 661.4,582.2C665.1,581.5 669.0,580.7 673.2,579.6C677.3,578.5 681.1,576.8 686.2,575.7C691.4,574.6 701.2,573.5 704.1,573.1"/>
<path d="M566.6,578.3C568.0,578.0 571.5,576.9 575.1,576.3C578.7,575.8 583.8,575.3 588.2,575.0C592.5,574.8 596.9,574.9 601.2,575.0C605.6,575.1 609.9,575.1 614.3,575.7C618.7,576.2 623.0,577.2 627.4,578.3C631.7,579.4 636.1,580.9 640.5,582.2C644.8,583.5 649.2,584.6 653.5,586.2C657.9,587.7 662.3,589.2 666.6,591.4C671.0,593.6 675.3,596.8 679.7,599.2C684.1,601.6 688.7,604.4 692.8,605.8C696.8,607.1 702.3,607.1 704.1,607.3"/>
<path d="M566.6,600.5C568.0,600.1 572.6,599.2 575.1,597.9C577.6,596.6 579.4,593.8 581.6,592.7C583.8,591.6 584.9,591.1 588.2,591.4C591.4,591.7 596.9,593.6 601.2,594.7C605.6,595.7 609.9,596.7 614.3,597.9C618.7,599.1 623.0,601.0 627.4,601.8C631.7,602.7 636.1,601.8 640.5,603.2C644.8,604.5 650.1,607.7 653.5,609.7C657.0,611.7 658.1,612.3 661.4,614.9C664.7,617.5 670.1,620.4 673.2,625.4C676.2,630.4 678.0,639.3 679.7,645.0C681.4,650.7 682.6,657.0 683.2,659.4"/>
<path d="M566.6,601.2C570.2,601.3 580.2,601.6 588.2,601.8C596.1,602.1 605.6,602.4 614.3,602.5C623.0,602.6 631.7,602.7 640.5,602.5C649.2,602.3 660.1,601.5 666.6,601.2C673.2,600.9 675.3,601.6 679.7,600.5C684.1,599.4 688.7,596.9 692.8,594.7C696.8,592.5 702.3,588.6 704.1,587.3"/>
<path d="M566.6,601.8C568.0,602.3 572.6,603.2 575.1,604.5C577.6,605.8 579.4,607.9 581.6,609.7C583.8,611.4 585.8,614.1 588.2,614.9C590.6,615.8 592.7,615.4 596.0,614.9C599.3,614.5 603.8,613.1 607.8,612.3C611.7,611.5 615.4,610.8 619.5,610.3C623.7,609.9 628.3,609.7 632.6,609.7C637.0,609.7 641.8,609.5 645.7,610.3C649.6,611.2 652.7,612.9 656.2,614.9C659.6,617.0 663.3,618.8 666.6,622.8C669.9,626.7 673.0,632.4 675.8,638.5C678.5,644.6 682.0,655.9 683.2,659.4"/>
<path d="M566.6,656.8C567.6,654.8 570.4,648.9 572.5,645.0C574.5,641.1 576.8,636.3 579.0,633.2C581.2,630.2 583.4,627.6 585.5,626.7C587.7,625.8 590.1,627.2 592.1,628.0C594.0,628.8 595.8,631.3 597.3,631.3C598.8,631.3 599.5,629.2 601.2,628.0C603.0,626.8 605.6,624.8 607.8,624.1C609.9,623.3 612.1,623.2 614.3,623.4C616.5,623.6 618.7,624.2 620.8,625.4C623.0,626.6 625.4,629.1 627.4,630.6C629.3,632.1 630.4,634.4 632.6,634.5C634.8,634.6 638.1,632.6 640.5,631.3C642.9,630.0 644.8,627.7 647.0,626.7C649.2,625.7 651.4,624.7 653.5,625.4C655.7,626.0 657.9,628.0 660.1,630.6C662.3,633.2 664.0,637.6 666.6,641.1C669.2,644.6 673.0,648.5 675.8,651.5C678.5,654.6 682.0,658.1 683.2,659.4"/>
<path d="M566.6,656.8C568.0,655.0 571.5,648.9 575.1,646.3C578.7,643.7 583.8,642.2 588.2,641.1C592.5,640.0 597.5,640.1 601.2,639.8C604.9,639.4 608.2,639.8 610.4,639.1C612.6,638.5 612.8,638.1 614.3,635.8C615.8,633.6 617.8,628.9 619.5,625.4C621.3,621.9 623.0,618.4 624.8,614.9C626.5,611.4 628.3,607.5 630.0,604.5C631.7,601.4 633.1,599.0 635.2,596.6C637.4,594.2 640.0,591.6 643.1,590.1C646.1,588.6 649.6,587.8 653.5,587.5C657.5,587.1 662.9,587.5 666.6,588.1C670.3,588.8 673.0,589.5 675.8,591.4C678.5,593.2 680.4,597.3 683.2,599.2C686.1,601.2 689.3,602.1 692.8,603.2C696.3,604.2 702.3,605.3 704.1,605.8"/>
<path d="M566.6,655.5C567.1,653.9 568.4,650.0 569.8,646.3C571.3,642.6 573.1,637.2 575.1,633.2C577.0,629.3 579.4,625.4 581.6,622.8C583.8,620.2 586.0,619.3 588.2,617.5C590.3,615.8 592.5,613.6 594.7,612.3C596.9,611.0 598.0,610.1 601.2,609.7C604.5,609.3 609.9,609.5 614.3,609.7C618.7,609.9 623.0,610.6 627.4,611.0C631.7,611.4 636.1,611.4 640.5,612.3C644.8,613.2 649.2,614.7 653.5,616.2C657.9,617.8 662.7,617.8 666.6,621.5C670.5,625.2 674.3,632.1 677.1,638.5C679.8,644.8 682.2,655.9 683.2,659.4"/>
<path d="M566.6,654.2C567.3,652.4 569.3,647.6 571.2,643.7C573.0,639.8 575.5,634.8 577.7,630.6C579.9,626.5 582.1,622.3 584.2,618.8C586.4,615.4 588.8,612.3 590.8,609.7C592.7,607.1 594.3,605.1 596.0,603.2C597.7,601.2 599.3,599.2 601.2,597.9C603.2,596.6 605.6,596.2 607.8,595.3C609.9,594.4 611.9,594.0 614.3,592.7C616.7,591.4 619.5,589.0 622.2,587.5C624.8,585.9 626.9,584.6 630.0,583.5C633.1,582.4 636.5,581.8 640.5,580.9C644.4,580.1 649.2,579.1 653.5,578.3C657.9,577.5 662.7,576.3 666.6,576.3C670.5,576.3 673.8,577.3 677.1,578.3C680.3,579.3 681.7,581.1 686.2,582.2C690.7,583.3 701.2,584.4 704.1,584.8"/>
<path d="M683.2,659.4C684.4,657.0 687.9,649.4 690.2,645.0C692.4,640.6 694.4,636.5 696.7,633.2C699.0,630.0 701.6,626.8 704.1,625.4C706.7,624.0 710.7,624.8 712.0,624.7"/>
<path d="M683.2,659.4C683.7,658.1 684.9,654.6 686.2,651.5C687.6,648.5 689.5,644.6 691.5,641.1C693.4,637.6 695.9,633.2 698.0,630.6C700.1,628.0 703.1,626.3 704.1,625.4"/>
<path d="M606.5,597.9C607.8,599.2 611.9,601.6 614.3,605.8C616.7,609.9 618.7,617.8 620.8,622.8C623.0,627.8 625.2,633.2 627.4,635.8C629.6,638.5 631.7,638.5 633.9,638.5C636.1,638.5 639.4,636.3 640.5,635.8"/>
</g>
<line x1="86.70" y1="338.40" x2="455.20" y2="338.40" stroke="#c4c4ee" stroke-width="1.3" stroke-dasharray="4 1.5"/>
<line x1="84.70" y1="338.40" x2="96.70" y2="338.40" stroke="#000" stroke-width="2.2" />
<line x1="457.20" y1="338.40" x2="445.20" y2="338.40" stroke="#000" stroke-width="2.2" />
<line x1="84.70" y1="304.85" x2="92.70" y2="304.85" stroke="#000" stroke-width="2.2" />
<line x1="457.20" y1="304.85" x2="449.20" y2="304.85" stroke="#000" stroke-width="2.2" />
<line x1="84.70" y1="271.30" x2="96.70" y2="271.30" stroke="#000" stroke-width="2.2" />
<line x1="457.20" y1="271.30" x2="445.20" y2="271.30" stroke="#000" stroke-width="2.2" />
<line x1="84.70" y1="237.75" x2="92.70" y2="237.75" stroke="#000" stroke-width="2.2" />
<line x1="457.20" y1="237.75" x2="449.20" y2="237.75" stroke="#000" stroke-width="2.2" />
<line x1="84.70" y1="204.20" x2="96.70" y2="204.20" stroke="#000" stroke-width="2.2" />
<line x1="457.20" y1="204.20" x2="445.20" y2="204.20" stroke="#000" stroke-width="2.2" />
<line x1="84.70" y1="170.65" x2="92.70" y2="170.65" stroke="#000" stroke-width="2.2" />
<line x1="457.20" y1="170.65" x2="449.20" y2="170.65" stroke="#000" stroke-width="2.2" />
<line x1="84.70" y1="137.10" x2="96.70" y2="137.10" stroke="#000" stroke-width="2.2" />
<line x1="457.20" y1="137.10" x2="445.20" y2="137.10" stroke="#000" stroke-width="2.2" />
<line x1="84.70" y1="103.55" x2="92.70" y2="103.55" stroke="#000" stroke-width="2.2" />
<line x1="457.20" y1="103.55" x2="449.20" y2="103.55" stroke="#000" stroke-width="2.2" />
<line x1="169.40" y1="347.60" x2="169.40" y2="338.60" stroke="#000" stroke-width="2.2" />
<line x1="169.40" y1="71.30" x2="169.40" y2="81.30" stroke="#000" stroke-width="2.2" />
<line x1="190.30" y1="347.60" x2="190.30" y2="338.60" stroke="#000" stroke-width="2.2" />
<line x1="190.30" y1="71.30" x2="190.30" y2="81.30" stroke="#000" stroke-width="2.2" />
<line x1="252.60" y1="347.60" x2="252.60" y2="338.60" stroke="#000" stroke-width="2.2" />
<line x1="252.60" y1="71.30" x2="252.60" y2="81.30" stroke="#000" stroke-width="2.2" />
<line x1="325.20" y1="347.60" x2="325.20" y2="338.60" stroke="#000" stroke-width="2.2" />
<line x1="325.20" y1="71.30" x2="325.20" y2="81.30" stroke="#000" stroke-width="2.2" />
<line x1="398.00" y1="347.60" x2="398.00" y2="338.60" stroke="#000" stroke-width="2.2" />
<line x1="398.00" y1="71.30" x2="398.00" y2="81.30" stroke="#000" stroke-width="2.2" />
<path d="M84.70,71.30H457.20" stroke="#000" stroke-width="2.1" fill="none"/>
<path d="M84.70,347.60H457.20" stroke="#000" stroke-width="2.3" fill="none"/>
<path d="M84.70,70.30V348.75" stroke="#000" stroke-width="2.3" fill="none"/>
<path d="M457.20,70.30V348.75" stroke="#000" stroke-width="2.8" fill="none"/>
<line x1="569.20" y1="336.60" x2="937.00" y2="336.60" stroke="#c4c4ee" stroke-width="1.3" stroke-dasharray="4 1.5"/>
<line x1="567.20" y1="336.60" x2="579.20" y2="336.60" stroke="#000" stroke-width="2.2" />
<line x1="939.00" y1="336.60" x2="927.00" y2="336.60" stroke="#000" stroke-width="2.2" />
<line x1="567.20" y1="303.45" x2="575.20" y2="303.45" stroke="#000" stroke-width="2.2" />
<line x1="939.00" y1="303.45" x2="931.00" y2="303.45" stroke="#000" stroke-width="2.2" />
<line x1="567.20" y1="270.30" x2="579.20" y2="270.30" stroke="#000" stroke-width="2.2" />
<line x1="939.00" y1="270.30" x2="927.00" y2="270.30" stroke="#000" stroke-width="2.2" />
<line x1="567.20" y1="237.15" x2="575.20" y2="237.15" stroke="#000" stroke-width="2.2" />
<line x1="939.00" y1="237.15" x2="931.00" y2="237.15" stroke="#000" stroke-width="2.2" />
<line x1="567.20" y1="204.00" x2="579.20" y2="204.00" stroke="#000" stroke-width="2.2" />
<line x1="939.00" y1="204.00" x2="927.00" y2="204.00" stroke="#000" stroke-width="2.2" />
<line x1="567.20" y1="170.85" x2="575.20" y2="170.85" stroke="#000" stroke-width="2.2" />
<line x1="939.00" y1="170.85" x2="931.00" y2="170.85" stroke="#000" stroke-width="2.2" />
<line x1="567.20" y1="137.70" x2="579.20" y2="137.70" stroke="#000" stroke-width="2.2" />
<line x1="939.00" y1="137.70" x2="927.00" y2="137.70" stroke="#000" stroke-width="2.2" />
<line x1="567.20" y1="104.55" x2="575.20" y2="104.55" stroke="#000" stroke-width="2.2" />
<line x1="939.00" y1="104.55" x2="931.00" y2="104.55" stroke="#000" stroke-width="2.2" />
<line x1="593.10" y1="347.20" x2="593.10" y2="338.20" stroke="#000" stroke-width="2.2" />
<line x1="593.10" y1="71.30" x2="593.10" y2="81.30" stroke="#000" stroke-width="2.2" />
<line x1="635.00" y1="347.20" x2="635.00" y2="338.20" stroke="#000" stroke-width="2.2" />
<line x1="635.00" y1="71.30" x2="635.00" y2="81.30" stroke="#000" stroke-width="2.2" />
<line x1="661.10" y1="347.20" x2="661.10" y2="338.20" stroke="#000" stroke-width="2.2" />
<line x1="661.10" y1="71.30" x2="661.10" y2="81.30" stroke="#000" stroke-width="2.2" />
<line x1="703.10" y1="347.20" x2="703.10" y2="338.20" stroke="#000" stroke-width="2.2" />
<line x1="703.10" y1="71.30" x2="703.10" y2="81.30" stroke="#000" stroke-width="2.2" />
<line x1="728.50" y1="347.20" x2="728.50" y2="338.20" stroke="#000" stroke-width="2.2" />
<line x1="728.50" y1="71.30" x2="728.50" y2="81.30" stroke="#000" stroke-width="2.2" />
<line x1="754.70" y1="347.20" x2="754.70" y2="338.20" stroke="#000" stroke-width="2.2" />
<line x1="754.70" y1="71.30" x2="754.70" y2="81.30" stroke="#000" stroke-width="2.2" />
<line x1="796.30" y1="347.20" x2="796.30" y2="338.20" stroke="#000" stroke-width="2.2" />
<line x1="796.30" y1="71.30" x2="796.30" y2="81.30" stroke="#000" stroke-width="2.2" />
<line x1="822.90" y1="347.20" x2="822.90" y2="338.20" stroke="#000" stroke-width="2.2" />
<line x1="822.90" y1="71.30" x2="822.90" y2="81.30" stroke="#000" stroke-width="2.2" />
<line x1="865.10" y1="347.20" x2="865.10" y2="338.20" stroke="#000" stroke-width="2.2" />
<line x1="865.10" y1="71.30" x2="865.10" y2="81.30" stroke="#000" stroke-width="2.2" />
<line x1="889.50" y1="347.20" x2="889.50" y2="338.20" stroke="#000" stroke-width="2.2" />
<line x1="889.50" y1="71.30" x2="889.50" y2="81.30" stroke="#000" stroke-width="2.2" />
<line x1="914.40" y1="347.20" x2="914.40" y2="338.20" stroke="#000" stroke-width="2.2" />
<line x1="914.40" y1="71.30" x2="914.40" y2="81.30" stroke="#000" stroke-width="2.2" />
<path d="M567.20,71.30H939.00" stroke="#000" stroke-width="2.1" fill="none"/>
<path d="M567.20,347.20H939.00" stroke="#000" stroke-width="2.3" fill="none"/>
<path d="M567.20,70.30V348.35" stroke="#000" stroke-width="2.3" fill="none"/>
<path d="M939.00,70.30V348.35" stroke="#000" stroke-width="2.8" fill="none"/>
<line x1="85.80" y1="733.80" x2="453.80" y2="733.80" stroke="#c4c4ee" stroke-width="1.3" stroke-dasharray="4 1.5"/>
<line x1="83.80" y1="733.80" x2="95.80" y2="733.80" stroke="#000" stroke-width="2.2" />
<line x1="455.80" y1="733.80" x2="443.80" y2="733.80" stroke="#000" stroke-width="2.2" />
<line x1="83.80" y1="700.80" x2="91.80" y2="700.80" stroke="#000" stroke-width="2.2" />
<line x1="455.80" y1="700.80" x2="447.80" y2="700.80" stroke="#000" stroke-width="2.2" />
<line x1="83.80" y1="667.80" x2="95.80" y2="667.80" stroke="#000" stroke-width="2.2" />
<line x1="455.80" y1="667.80" x2="443.80" y2="667.80" stroke="#000" stroke-width="2.2" />
<line x1="83.80" y1="634.80" x2="91.80" y2="634.80" stroke="#000" stroke-width="2.2" />
<line x1="455.80" y1="634.80" x2="447.80" y2="634.80" stroke="#000" stroke-width="2.2" />
<line x1="83.80" y1="601.80" x2="95.80" y2="601.80" stroke="#000" stroke-width="2.2" />
<line x1="455.80" y1="601.80" x2="443.80" y2="601.80" stroke="#000" stroke-width="2.2" />
<line x1="83.80" y1="568.80" x2="91.80" y2="568.80" stroke="#000" stroke-width="2.2" />
<line x1="455.80" y1="568.80" x2="447.80" y2="568.80" stroke="#000" stroke-width="2.2" />
<line x1="83.80" y1="535.80" x2="95.80" y2="535.80" stroke="#000" stroke-width="2.2" />
<line x1="455.80" y1="535.80" x2="443.80" y2="535.80" stroke="#000" stroke-width="2.2" />
<line x1="83.80" y1="502.80" x2="91.80" y2="502.80" stroke="#000" stroke-width="2.2" />
<line x1="455.80" y1="502.80" x2="447.80" y2="502.80" stroke="#000" stroke-width="2.2" />
<line x1="107.70" y1="745.50" x2="107.70" y2="736.50" stroke="#000" stroke-width="2.2" />
<line x1="107.70" y1="469.70" x2="107.70" y2="479.70" stroke="#000" stroke-width="2.2" />
<line x1="154.00" y1="745.50" x2="154.00" y2="736.50" stroke="#000" stroke-width="2.2" />
<line x1="154.00" y1="469.70" x2="154.00" y2="479.70" stroke="#000" stroke-width="2.2" />
<line x1="178.90" y1="745.50" x2="178.90" y2="736.50" stroke="#000" stroke-width="2.2" />
<line x1="178.90" y1="469.70" x2="178.90" y2="479.70" stroke="#000" stroke-width="2.2" />
<line x1="224.70" y1="745.50" x2="224.70" y2="736.50" stroke="#000" stroke-width="2.2" />
<line x1="224.70" y1="469.70" x2="224.70" y2="479.70" stroke="#000" stroke-width="2.2" />
<line x1="270.30" y1="745.50" x2="270.30" y2="736.50" stroke="#000" stroke-width="2.2" />
<line x1="270.30" y1="469.70" x2="270.30" y2="479.70" stroke="#000" stroke-width="2.2" />
<line x1="294.50" y1="745.50" x2="294.50" y2="736.50" stroke="#000" stroke-width="2.2" />
<line x1="294.50" y1="469.70" x2="294.50" y2="479.70" stroke="#000" stroke-width="2.2" />
<line x1="340.20" y1="745.50" x2="340.20" y2="736.50" stroke="#000" stroke-width="2.2" />
<line x1="340.20" y1="469.70" x2="340.20" y2="479.70" stroke="#000" stroke-width="2.2" />
<line x1="386.00" y1="745.50" x2="386.00" y2="736.50" stroke="#000" stroke-width="2.2" />
<line x1="386.00" y1="469.70" x2="386.00" y2="479.70" stroke="#000" stroke-width="2.2" />
<line x1="410.40" y1="745.50" x2="410.40" y2="736.50" stroke="#000" stroke-width="2.2" />
<line x1="410.40" y1="469.70" x2="410.40" y2="479.70" stroke="#000" stroke-width="2.2" />
<path d="M83.80,469.70H455.80" stroke="#000" stroke-width="2.1" fill="none"/>
<path d="M83.80,745.50H455.80" stroke="#000" stroke-width="2.3" fill="none"/>
<path d="M83.80,468.70V746.65" stroke="#000" stroke-width="2.3" fill="none"/>
<path d="M455.80,468.70V746.65" stroke="#000" stroke-width="2.8" fill="none"/>
<line x1="568.60" y1="659.40" x2="936.00" y2="659.40" stroke="#c4c4ee" stroke-width="1.3" stroke-dasharray="4 1.5"/>
<line x1="566.60" y1="707.00" x2="578.60" y2="707.00" stroke="#000" stroke-width="2.2" />
<line x1="938.00" y1="707.00" x2="926.00" y2="707.00" stroke="#000" stroke-width="2.2" />
<line x1="566.60" y1="659.40" x2="578.60" y2="659.40" stroke="#000" stroke-width="2.2" />
<line x1="938.00" y1="659.40" x2="926.00" y2="659.40" stroke="#000" stroke-width="2.2" />
<line x1="566.60" y1="611.80" x2="578.60" y2="611.80" stroke="#000" stroke-width="2.2" />
<line x1="938.00" y1="611.80" x2="926.00" y2="611.80" stroke="#000" stroke-width="2.2" />
<line x1="566.60" y1="564.20" x2="578.60" y2="564.20" stroke="#000" stroke-width="2.2" />
<line x1="938.00" y1="564.20" x2="926.00" y2="564.20" stroke="#000" stroke-width="2.2" />
<line x1="566.60" y1="516.60" x2="578.60" y2="516.60" stroke="#000" stroke-width="2.2" />
<line x1="938.00" y1="516.60" x2="926.00" y2="516.60" stroke="#000" stroke-width="2.2" />
<line x1="608.50" y1="745.70" x2="608.50" y2="736.70" stroke="#000" stroke-width="2.2" />
<line x1="608.50" y1="469.50" x2="608.50" y2="479.50" stroke="#000" stroke-width="2.2" />
<line x1="633.20" y1="745.70" x2="633.20" y2="736.70" stroke="#000" stroke-width="2.2" />
<line x1="633.20" y1="469.50" x2="633.20" y2="479.50" stroke="#000" stroke-width="2.2" />
<line x1="683.20" y1="745.70" x2="683.20" y2="736.70" stroke="#000" stroke-width="2.2" />
<line x1="683.20" y1="469.50" x2="683.20" y2="479.50" stroke="#000" stroke-width="2.2" />
<line x1="704.10" y1="745.70" x2="704.10" y2="736.70" stroke="#000" stroke-width="2.2" />
<line x1="704.10" y1="469.50" x2="704.10" y2="479.50" stroke="#000" stroke-width="2.2" />
<line x1="746.80" y1="745.70" x2="746.80" y2="736.70" stroke="#000" stroke-width="2.2" />
<line x1="746.80" y1="469.50" x2="746.80" y2="479.50" stroke="#000" stroke-width="2.2" />
<line x1="771.60" y1="745.70" x2="771.60" y2="736.70" stroke="#000" stroke-width="2.2" />
<line x1="771.60" y1="469.50" x2="771.60" y2="479.50" stroke="#000" stroke-width="2.2" />
<line x1="820.70" y1="745.70" x2="820.70" y2="736.70" stroke="#000" stroke-width="2.2" />
<line x1="820.70" y1="469.50" x2="820.70" y2="479.50" stroke="#000" stroke-width="2.2" />
<line x1="864.10" y1="745.70" x2="864.10" y2="736.70" stroke="#000" stroke-width="2.2" />
<line x1="864.10" y1="469.50" x2="864.10" y2="479.50" stroke="#000" stroke-width="2.2" />
<line x1="884.60" y1="745.70" x2="884.60" y2="736.70" stroke="#000" stroke-width="2.2" />
<line x1="884.60" y1="469.50" x2="884.60" y2="479.50" stroke="#000" stroke-width="2.2" />
<line x1="916.80" y1="745.70" x2="916.80" y2="736.70" stroke="#000" stroke-width="2.2" />
<line x1="916.80" y1="469.50" x2="916.80" y2="479.50" stroke="#000" stroke-width="2.2" />
<path d="M566.60,469.50H938.00" stroke="#000" stroke-width="2.1" fill="none"/>
<path d="M566.60,745.70H938.00" stroke="#000" stroke-width="2.3" fill="none"/>
<path d="M566.60,468.50V746.85" stroke="#000" stroke-width="2.3" fill="none"/>
<path d="M938.00,468.50V746.85" stroke="#000" stroke-width="2.8" fill="none"/>
<line x1="1156.80" y1="134.80" x2="1167.80" y2="134.80" stroke="#000" stroke-width="2.6" />
<line x1="1156.80" y1="203.70" x2="1167.80" y2="203.70" stroke="#000" stroke-width="2.6" />
<line x1="1156.80" y1="272.60" x2="1167.80" y2="272.60" stroke="#000" stroke-width="2.6" />
<line x1="1274.35" y1="341.50" x2="1274.35" y2="337.50" stroke="#000" stroke-width="2.6" />
<line x1="1391.90" y1="341.50" x2="1391.90" y2="337.50" stroke="#000" stroke-width="2.6" />
<line x1="1509.45" y1="341.50" x2="1509.45" y2="337.50" stroke="#000" stroke-width="2.6" />
<rect x="1156.80" y="65.90" width="355.80" height="275.60" fill="none" stroke="#000" stroke-width="2.2"/>
<line x1="1659.30" y1="135.40" x2="1670.30" y2="135.40" stroke="#000" stroke-width="2.6" />
<line x1="1659.30" y1="203.40" x2="1670.30" y2="203.40" stroke="#000" stroke-width="2.6" />
<line x1="1659.30" y1="271.40" x2="1670.30" y2="271.40" stroke="#000" stroke-width="2.6" />
<line x1="1776.55" y1="339.40" x2="1776.55" y2="335.40" stroke="#000" stroke-width="2.6" />
<line x1="1893.80" y1="339.40" x2="1893.80" y2="335.40" stroke="#000" stroke-width="2.6" />
<line x1="2011.05" y1="339.40" x2="2011.05" y2="335.40" stroke="#000" stroke-width="2.6" />
<rect x="1659.30" y="67.40" width="352.10" height="272.00" fill="none" stroke="#000" stroke-width="2.2"/>
<line x1="1153.30" y1="533.65" x2="1164.30" y2="533.65" stroke="#000" stroke-width="2.6" />
<line x1="1153.30" y1="602.40" x2="1164.30" y2="602.40" stroke="#000" stroke-width="2.6" />
<line x1="1153.30" y1="671.15" x2="1164.30" y2="671.15" stroke="#000" stroke-width="2.6" />
<line x1="1272.25" y1="739.90" x2="1272.25" y2="735.90" stroke="#000" stroke-width="2.6" />
<line x1="1391.20" y1="739.90" x2="1391.20" y2="735.90" stroke="#000" stroke-width="2.6" />
<line x1="1510.15" y1="739.90" x2="1510.15" y2="735.90" stroke="#000" stroke-width="2.6" />
<rect x="1153.30" y="464.90" width="357.40" height="275.00" fill="none" stroke="#000" stroke-width="2.2"/>
<line x1="1654.00" y1="532.65" x2="1665.00" y2="532.65" stroke="#000" stroke-width="2.6" />
<line x1="1654.00" y1="601.40" x2="1665.00" y2="601.40" stroke="#000" stroke-width="2.6" />
<line x1="1654.00" y1="670.15" x2="1665.00" y2="670.15" stroke="#000" stroke-width="2.6" />
<line x1="1773.70" y1="738.90" x2="1773.70" y2="734.90" stroke="#000" stroke-width="2.6" />
<line x1="1893.40" y1="738.90" x2="1893.40" y2="734.90" stroke="#000" stroke-width="2.6" />
<line x1="2013.10" y1="738.90" x2="2013.10" y2="734.90" stroke="#000" stroke-width="2.6" />
<rect x="1654.00" y="463.90" width="359.50" height="275.00" fill="none" stroke="#000" stroke-width="2.2"/>
<path d="M1157.5,170.9 L1162.5,172.4 L1167.5,173.9 L1172.5,175.4 L1177.4,176.8 L1182.4,178.3 L1187.4,179.6 L1193.6,181.2 L1199.8,182.8 L1206.1,184.4 L1212.3,185.8 L1218.5,187.2 L1224.7,188.4 L1233.0,189.9 L1241.3,191.2 L1249.6,192.4 L1257.9,193.6 L1266.2,194.7 L1274.5,195.8 L1282.8,196.9 L1291.1,197.9 L1299.4,198.9 L1307.7,199.9 L1316.0,200.9 L1324.3,202.0 L1332.6,203.2 L1340.9,204.4 L1349.2,205.7 L1357.5,206.9 L1365.8,208.2 L1374.1,209.5 L1382.4,210.8 L1390.7,212.0 L1399.0,213.2 L1407.3,214.5 L1415.6,215.7 L1423.9,217.0 L1432.2,218.2 L1440.5,219.5 L1448.8,220.7 L1457.1,222.0 L1465.4,223.2 L1473.7,224.5 L1479.5,225.4 L1485.3,226.4 L1491.2,227.3 L1497.0,228.3 L1502.8,229.2 L1508.6,230.2" fill="none" stroke="#0000cc" stroke-width="7.0" stroke-linecap="round" stroke-linejoin="round"/>
<line x1="1157.5" y1="272.6" x2="1509" y2="272.6" stroke="#ed7d31" stroke-width="7.0" stroke-linecap="round"/>
<path d="M1157.5,114.4 L1159.6,114.5 L1161.7,114.6 L1163.8,114.8 L1165.8,114.9 L1167.9,115.0 L1170.0,115.2 L1174.2,115.8 L1178.3,116.7 L1182.5,117.8 L1186.7,119.0 L1190.8,120.3 L1195.0,121.5 L1200.0,123.0 L1204.9,124.5 L1209.8,126.2 L1214.8,127.9 L1219.8,129.5 L1224.7,131.1 L1233.0,133.6 L1241.3,136.1 L1249.6,138.6 L1257.9,141.0 L1266.2,143.5 L1274.5,146.0 L1282.8,148.6 L1291.1,151.3 L1299.4,153.9 L1307.7,156.7 L1316.0,159.4 L1324.3,162.2 L1332.6,165.0 L1340.9,167.8 L1349.2,170.7 L1357.5,173.6 L1365.8,176.5 L1374.1,179.6 L1382.4,182.8 L1390.7,186.1 L1399.0,189.5 L1407.3,192.9 L1415.6,196.3 L1423.9,199.6 L1432.2,202.8 L1440.5,205.9 L1448.8,209.0 L1457.1,212.1 L1465.4,215.1 L1473.7,218.2 L1479.5,220.4 L1485.3,222.5 L1491.2,224.7 L1497.0,226.9 L1502.8,229.0 L1508.6,231.2" fill="none" stroke="#00cc00" stroke-width="6.6" stroke-linecap="round" stroke-linejoin="round"/>
<path d="M1659.5,202.0 L1670.4,202.8 L1681.2,203.6 L1692.1,204.5 L1703.0,205.3 L1713.8,206.1 L1724.7,207.0 L1733.0,207.7 L1741.3,208.4 L1749.6,209.1 L1757.9,209.8 L1766.2,210.6 L1774.5,211.3 L1782.8,212.0 L1791.1,212.8 L1799.4,213.5 L1807.7,214.3 L1816.0,215.0 L1824.3,215.7 L1832.6,216.4 L1840.9,217.0 L1849.2,217.6 L1857.5,218.2 L1865.8,218.8 L1874.1,219.5 L1882.4,220.3 L1890.7,221.1 L1899.0,221.9 L1907.3,222.8 L1915.6,223.7 L1923.9,224.5 L1932.2,225.3 L1940.5,226.1 L1948.8,226.9 L1957.1,227.7 L1965.4,228.6 L1973.7,229.4 L1979.7,230.0 L1985.7,230.6 L1991.8,231.3 L1997.8,231.9 L2003.8,232.6 L2009.8,233.2" fill="none" stroke="#0000cc" stroke-width="7.0" stroke-linecap="round" stroke-linejoin="round"/>
<line x1="1656" y1="271.3" x2="2009.8" y2="271.3" stroke="#ed7d31" stroke-width="7.0" stroke-linecap="round"/>
<path d="M1659.5,155.2 L1661.6,155.3 L1663.7,155.4 L1665.8,155.6 L1667.8,155.7 L1669.9,155.8 L1672.0,156.0 L1675.8,156.5 L1679.7,157.2 L1683.5,158.1 L1687.3,159.0 L1691.2,160.0 L1695.0,161.0 L1700.0,162.3 L1704.9,163.8 L1709.8,165.3 L1714.8,166.8 L1719.8,168.3 L1724.7,169.7 L1733.0,171.9 L1741.3,174.0 L1749.6,176.0 L1757.9,178.0 L1766.2,180.1 L1774.5,182.1 L1782.8,184.2 L1791.1,186.2 L1799.4,188.3 L1807.7,190.3 L1816.0,192.4 L1824.3,194.6 L1832.6,196.8 L1840.9,199.0 L1849.2,201.2 L1857.5,203.5 L1865.8,205.9 L1874.1,208.3 L1882.4,210.9 L1890.7,213.5 L1899.0,216.3 L1907.3,219.1 L1915.6,221.8 L1923.9,224.5 L1932.2,227.0 L1940.5,229.5 L1948.8,231.8 L1957.1,234.3 L1965.4,236.8 L1973.7,239.4 L1979.7,241.4 L1985.7,243.6 L1991.8,245.8 L1997.8,248.0 L2003.8,250.2 L2009.8,252.4" fill="none" stroke="#00cc00" stroke-width="6.6" stroke-linecap="round" stroke-linejoin="round"/>
<path d="M1154.0,631.9 L1163.7,632.6 L1173.4,633.4 L1183.1,634.1 L1192.8,634.9 L1202.5,635.6 L1212.2,636.4 L1219.7,637.0 L1227.2,637.6 L1234.7,638.3 L1242.1,638.9 L1249.6,639.6 L1257.1,640.2 L1264.6,640.8 L1272.0,641.4 L1279.5,642.0 L1287.0,642.6 L1294.4,643.2 L1301.9,643.8 L1309.4,644.4 L1316.8,645.1 L1324.3,645.7 L1331.8,646.3 L1339.2,647.0 L1346.7,647.6 L1354.2,648.2 L1361.7,648.8 L1369.2,649.5 L1376.6,650.1 L1384.1,650.7 L1391.6,651.4 L1399.1,652.1 L1406.5,652.9 L1414.0,653.7 L1421.5,654.4 L1428.9,655.2 L1436.4,655.9 L1443.9,656.5 L1451.3,657.1 L1458.8,657.7 L1466.3,658.3 L1473.7,658.9 L1481.2,659.5 L1485.8,659.9 L1490.3,660.4 L1494.8,660.8 L1499.4,661.3 L1504.0,661.7 L1508.5,662.2" fill="none" stroke="#0000cc" stroke-width="7.0" stroke-linecap="round" stroke-linejoin="round"/>
<line x1="1151" y1="670.7" x2="1508.5" y2="670.7" stroke="#ed7d31" stroke-width="7.0" stroke-linecap="round"/>
<path d="M1154.0,592.0 L1156.0,592.1 L1158.0,592.2 L1160.0,592.3 L1162.0,592.4 L1164.0,592.5 L1166.0,592.6 L1169.2,593.0 L1172.3,593.5 L1175.5,594.2 L1178.7,594.9 L1181.8,595.7 L1185.0,596.5 L1189.5,597.6 L1194.1,598.9 L1198.6,600.1 L1203.1,601.4 L1207.7,602.7 L1212.2,603.9 L1219.7,605.7 L1227.2,607.4 L1234.7,609.1 L1242.1,610.7 L1249.6,612.3 L1257.1,614.0 L1264.6,615.7 L1272.0,617.4 L1279.5,619.1 L1287.0,620.8 L1294.4,622.5 L1301.9,624.1 L1309.4,625.6 L1316.8,627.1 L1324.3,628.6 L1331.8,630.0 L1339.2,631.5 L1346.7,633.0 L1354.2,634.6 L1361.7,636.2 L1369.2,637.8 L1376.6,639.5 L1384.1,641.3 L1391.6,643.1 L1399.1,645.0 L1406.5,647.0 L1414.0,649.1 L1421.5,651.2 L1428.9,653.3 L1436.4,655.4 L1443.9,657.5 L1451.3,659.5 L1458.8,661.6 L1466.3,663.6 L1473.7,665.7 L1481.2,667.8 L1485.8,669.1 L1490.3,670.4 L1494.8,671.7 L1499.4,673.0 L1504.0,674.3 L1508.5,675.6" fill="none" stroke="#00cc00" stroke-width="6.6" stroke-linecap="round" stroke-linejoin="round"/>
<path d="M1654.5,660.1 L1662.3,660.5 L1670.0,660.8 L1677.8,661.2 L1685.6,661.5 L1693.3,661.9 L1701.1,662.3 L1713.6,663.0 L1726.1,663.7 L1738.5,664.4 L1751.0,665.2 L1763.5,666.0 L1776.0,667.0 L1785.3,667.9 L1794.7,668.9 L1804.0,670.0 L1813.4,671.2 L1822.8,672.4 L1832.1,673.5 L1841.4,674.6 L1850.8,675.7 L1860.2,676.9 L1869.5,678.0 L1878.8,679.1 L1888.2,680.1 L1897.5,681.1 L1906.9,682.1 L1916.2,683.1 L1925.6,684.0 L1935.0,684.9 L1944.3,685.7 L1955.4,686.6 L1966.5,687.4 L1977.7,688.2 L1988.8,688.9 L1999.9,689.6 L2011.0,690.4" fill="none" stroke="#0000cc" stroke-width="7.0" stroke-linecap="round" stroke-linejoin="round"/>
<line x1="1652" y1="669.8" x2="2011" y2="669.8" stroke="#ed7d31" stroke-width="7.0" stroke-linecap="round"/>
<path d="M1654.5,626.8 L1656.8,626.9 L1659.0,626.9 L1661.2,627.0 L1663.5,627.0 L1665.8,627.1 L1668.0,627.2 L1671.7,627.5 L1675.3,627.9 L1679.0,628.5 L1682.7,629.1 L1686.3,629.8 L1690.0,630.5 L1695.0,631.4 L1699.9,632.5 L1704.9,633.6 L1709.9,634.8 L1714.8,636.0 L1719.8,637.1 L1729.2,639.1 L1738.5,641.2 L1747.9,643.2 L1757.3,645.2 L1766.6,647.2 L1776.0,649.2 L1785.3,651.1 L1794.7,652.9 L1804.0,654.7 L1813.4,656.5 L1822.8,658.4 L1832.1,660.4 L1838.3,661.8 L1844.6,663.4 L1850.8,664.9 L1857.0,666.5 L1863.3,668.2 L1869.5,669.8 L1875.7,671.5 L1882.0,673.2 L1888.2,674.9 L1894.4,676.6 L1900.7,678.4 L1906.9,680.1 L1913.1,681.8 L1919.4,683.6 L1925.6,685.4 L1931.8,687.1 L1938.1,688.8 L1944.3,690.4 L1950.5,691.9 L1956.8,693.4 L1963.0,694.8 L1969.3,696.2 L1975.5,697.5 L1981.8,698.8 L1986.7,699.7 L1991.5,700.6 L1996.4,701.4 L2001.3,702.2 L2006.1,703.1 L2011.0,703.9" fill="none" stroke="#00cc00" stroke-width="6.6" stroke-linecap="round" stroke-linejoin="round"/>
<text x="148.7" y="52.2" font-size="37.5" text-anchor="start" font-family="Liberation Sans, Arial, sans-serif" fill="#000" >MgAgAs-type</text>
<text x="659.2" y="52.4" font-size="37.5" text-anchor="start" font-family="Liberation Sans, Arial, sans-serif" fill="#000" >TiNiSi-type</text>
<text x="166.6" y="453.0" font-size="37.5" text-anchor="start" font-family="Liberation Sans, Arial, sans-serif" fill="#000" >LiGaGe-type</text>
<text x="650.9" y="452.8" font-size="37.5" text-anchor="start" font-family="Liberation Sans, Arial, sans-serif" fill="#000" >ZrBeSi-type</text>
<text x="76.0" y="347.7" font-size="28.3" text-anchor="end" font-family="Liberation Sans, Arial, sans-serif" fill="#000" >0</text>
<text x="76.0" y="280.0" font-size="28.3" text-anchor="end" font-family="Liberation Sans, Arial, sans-serif" fill="#000" >2</text>
<text x="76.0" y="212.3" font-size="28.3" text-anchor="end" font-family="Liberation Sans, Arial, sans-serif" fill="#000" >4</text>
<text x="76.0" y="144.6" font-size="28.3" text-anchor="end" font-family="Liberation Sans, Arial, sans-serif" fill="#000" >6</text>
<text x="76.0" y="76.9" font-size="28.3" text-anchor="end" font-family="Liberation Sans, Arial, sans-serif" fill="#000" >8</text>
<text x="556.6" y="347.7" font-size="28.3" text-anchor="end" font-family="Liberation Sans, Arial, sans-serif" fill="#000" >0</text>
<text x="556.6" y="280.0" font-size="28.3" text-anchor="end" font-family="Liberation Sans, Arial, sans-serif" fill="#000" >2</text>
<text x="556.6" y="212.3" font-size="28.3" text-anchor="end" font-family="Liberation Sans, Arial, sans-serif" fill="#000" >4</text>
<text x="556.6" y="144.6" font-size="28.3" text-anchor="end" font-family="Liberation Sans, Arial, sans-serif" fill="#000" >6</text>
<text x="556.6" y="76.9" font-size="28.3" text-anchor="end" font-family="Liberation Sans, Arial, sans-serif" fill="#000" >8</text>
<text x="76.0" y="747.7" font-size="28.3" text-anchor="end" font-family="Liberation Sans, Arial, sans-serif" fill="#000" >0</text>
<text x="76.0" y="680.0" font-size="28.3" text-anchor="end" font-family="Liberation Sans, Arial, sans-serif" fill="#000" >2</text>
<text x="76.0" y="612.3" font-size="28.3" text-anchor="end" font-family="Liberation Sans, Arial, sans-serif" fill="#000" >4</text>
<text x="76.0" y="544.6" font-size="28.3" text-anchor="end" font-family="Liberation Sans, Arial, sans-serif" fill="#000" >6</text>
<text x="76.0" y="476.9" font-size="28.3" text-anchor="end" font-family="Liberation Sans, Arial, sans-serif" fill="#000" >8</text>
<text x="559.0" y="482.8" font-size="28.3" text-anchor="end" font-family="Liberation Sans, Arial, sans-serif" fill="#000" >8</text>
<text x="559.0" y="528.5" font-size="28.3" text-anchor="end" font-family="Liberation Sans, Arial, sans-serif" fill="#000" >6</text>
<text x="559.0" y="579.1" font-size="28.3" text-anchor="end" font-family="Liberation Sans, Arial, sans-serif" fill="#000" >4</text>
<text x="559.0" y="623.4" font-size="28.3" text-anchor="end" font-family="Liberation Sans, Arial, sans-serif" fill="#000" >2</text>
<text x="559.0" y="668.8" font-size="28.3" text-anchor="end" font-family="Liberation Sans, Arial, sans-serif" fill="#000" >0</text>
<text x="559.0" y="716.7" font-size="28.3" text-anchor="end" font-family="Liberation Sans, Arial, sans-serif" fill="#000" >-2</text>
<text transform="translate(41.0,207.0) rotate(-90)" x="0" y="0" font-size="27.1" text-anchor="middle" font-family="Liberation Sans, Arial, sans-serif">Frequency [THz]</text>
<text transform="translate(521.5,206.7) rotate(-90)" x="0" y="0" font-size="27.1" text-anchor="middle" font-family="Liberation Sans, Arial, sans-serif">Frequency [THz]</text>
<text transform="translate(41.0,606.6) rotate(-90)" x="0" y="0" font-size="27.1" text-anchor="middle" font-family="Liberation Sans, Arial, sans-serif">Frequency [THz]</text>
<text transform="translate(519.5,599.3) rotate(-90)" x="0" y="0" font-size="27.1" text-anchor="middle" font-family="Liberation Sans, Arial, sans-serif">Frequency [THz]</text>
<text x="84.7" y="373.8" font-size="31.5" text-anchor="middle" font-family="Liberation Serif, Times New Roman, serif" fill="#000" >Γ</text>
<text x="170.2" y="373.8" font-size="28.3" text-anchor="middle" font-family="Liberation Sans, Arial, sans-serif" fill="#000" >X</text>
<text x="196.8" y="373.8" font-size="28.3" text-anchor="middle" font-family="Liberation Sans, Arial, sans-serif" fill="#000" >K</text>
<text x="258.6" y="373.8" font-size="31.5" text-anchor="middle" font-family="Liberation Serif, Times New Roman, serif" fill="#000" >Γ</text>
<text x="327.9" y="373.8" font-size="28.3" text-anchor="middle" font-family="Liberation Sans, Arial, sans-serif" fill="#000" >L</text>
<text x="403.2" y="373.8" font-size="28.3" text-anchor="middle" font-family="Liberation Sans, Arial, sans-serif" fill="#000" >X</text>
<text x="462.6" y="373.8" font-size="28.3" text-anchor="middle" font-family="Liberation Sans, Arial, sans-serif" fill="#000" >W</text>
<text x="568.0" y="375.3" font-size="31.5" text-anchor="middle" font-family="Liberation Serif, Times New Roman, serif" fill="#000" >Γ</text>
<text x="593.0" y="375.3" font-size="28.3" text-anchor="middle" font-family="Liberation Sans, Arial, sans-serif" fill="#000" >X</text>
<text x="633.4" y="375.3" font-size="28.3" text-anchor="middle" font-family="Liberation Sans, Arial, sans-serif" fill="#000" >S</text>
<text x="666.2" y="375.3" font-size="28.3" text-anchor="middle" font-family="Liberation Sans, Arial, sans-serif" fill="#000" >Y</text>
<text x="705.8" y="375.3" font-size="31.5" text-anchor="middle" font-family="Liberation Serif, Times New Roman, serif" fill="#000" >Γ</text>
<text x="729.6" y="375.3" font-size="28.3" text-anchor="middle" font-family="Liberation Sans, Arial, sans-serif" fill="#000" >Z</text>
<text x="755.2" y="375.3" font-size="28.3" text-anchor="middle" font-family="Liberation Sans, Arial, sans-serif" fill="#000" >U</text>
<text x="798.0" y="375.3" font-size="28.3" text-anchor="middle" font-family="Liberation Sans, Arial, sans-serif" fill="#000" >R</text>
<text x="822.4" y="375.3" font-size="28.3" text-anchor="middle" font-family="Liberation Sans, Arial, sans-serif" fill="#000" >T</text>
<text x="946.1" y="375.3" font-size="28.3" text-anchor="middle" font-family="Liberation Sans, Arial, sans-serif" fill="#000" >R</text>
<text x="862.7" y="364.4" font-size="13.5" text-anchor="middle" font-family="Liberation Sans, Arial, sans-serif" fill="#000" >Z|X</text>
<text x="888.0" y="380.1" font-size="13.5" text-anchor="middle" font-family="Liberation Sans, Arial, sans-serif" fill="#000" >U|Y</text>
<text x="914.5" y="367.1" font-size="13.5" text-anchor="middle" font-family="Liberation Sans, Arial, sans-serif" fill="#000" >T|S</text>
<text x="89.2" y="771.8" font-size="31.5" text-anchor="middle" font-family="Liberation Serif, Times New Roman, serif" fill="#000" >Γ</text>
<text x="113.6" y="771.8" font-size="28.3" text-anchor="middle" font-family="Liberation Sans, Arial, sans-serif" fill="#000" >Z</text>
<text x="154.3" y="771.8" font-size="28.3" text-anchor="middle" font-family="Liberation Sans, Arial, sans-serif" fill="#000" >D</text>
<text x="188.4" y="771.8" font-size="28.3" text-anchor="middle" font-family="Liberation Sans, Arial, sans-serif" fill="#000" >B</text>
<text x="228.1" y="771.8" font-size="31.5" text-anchor="middle" font-family="Liberation Serif, Times New Roman, serif" fill="#000" >Γ</text>
<text x="274.5" y="771.8" font-size="28.3" text-anchor="middle" font-family="Liberation Sans, Arial, sans-serif" fill="#000" >A</text>
<text x="299.1" y="771.8" font-size="28.3" text-anchor="middle" font-family="Liberation Sans, Arial, sans-serif" fill="#000" >E</text>
<text x="345.6" y="771.8" font-size="28.3" text-anchor="middle" font-family="Liberation Sans, Arial, sans-serif" fill="#000" >A</text>
<text x="463.4" y="771.8" font-size="31.5" text-anchor="middle" font-family="Liberation Serif, Times New Roman, serif" fill="#000" >Γ</text>
<text x="376.3" y="771.8" font-size="27.5" text-anchor="start" font-family="Liberation Sans, Arial, sans-serif" fill="#000" >C<tspan font-size="18" dy="5.6">2</tspan></text>
<text x="411.5" y="771.8" font-size="27.5" text-anchor="start" font-family="Liberation Sans, Arial, sans-serif" fill="#000" >Y<tspan font-size="18" dy="5.6">2</tspan></text>
<text x="564.9" y="772.2" font-size="31.5" text-anchor="middle" font-family="Liberation Serif, Times New Roman, serif" fill="#000" >Γ</text>
<text x="607.5" y="772.2" font-size="28.3" text-anchor="middle" font-family="Liberation Sans, Arial, sans-serif" fill="#000" >M</text>
<text x="636.3" y="772.2" font-size="28.3" text-anchor="middle" font-family="Liberation Sans, Arial, sans-serif" fill="#000" >K</text>
<text x="675.7" y="772.2" font-size="31.5" text-anchor="middle" font-family="Liberation Serif, Times New Roman, serif" fill="#000" >Γ</text>
<text x="699.7" y="772.2" font-size="28.3" text-anchor="middle" font-family="Liberation Sans, Arial, sans-serif" fill="#000" >A</text>
<text x="752.5" y="772.2" font-size="28.3" text-anchor="middle" font-family="Liberation Sans, Arial, sans-serif" fill="#000" >L</text>
<text x="776.3" y="772.2" font-size="28.3" text-anchor="middle" font-family="Liberation Sans, Arial, sans-serif" fill="#000" >H</text>
<text x="823.6" y="772.2" font-size="28.3" text-anchor="middle" font-family="Liberation Sans, Arial, sans-serif" fill="#000" >A</text>
<text x="861.7" y="772.2" font-size="28.3" text-anchor="middle" font-family="Liberation Sans, Arial, sans-serif" fill="#000" >L</text>
<text x="886.5" y="772.2" font-size="28.3" text-anchor="middle" font-family="Liberation Sans, Arial, sans-serif" fill="#000" >M</text>
<text x="922.6" y="772.2" font-size="28.3" text-anchor="middle" font-family="Liberation Sans, Arial, sans-serif" fill="#000" >H</text>
<text x="949.7" y="772.2" font-size="28.3" text-anchor="middle" font-family="Liberation Sans, Arial, sans-serif" fill="#000" >K</text>
<text x="1150.6" y="78.4" font-size="27.5" text-anchor="end" font-family="Liberation Sans, Arial, sans-serif" fill="#000" >0.15</text>
<text x="1150.6" y="146.1" font-size="27.5" text-anchor="end" font-family="Liberation Sans, Arial, sans-serif" fill="#000" >0.10</text>
<text x="1150.6" y="213.8" font-size="27.5" text-anchor="end" font-family="Liberation Sans, Arial, sans-serif" fill="#000" >0.05</text>
<text x="1150.6" y="281.6" font-size="27.5" text-anchor="end" font-family="Liberation Sans, Arial, sans-serif" fill="#000" >0.00</text>
<text x="1150.6" y="349.3" font-size="27.5" text-anchor="end" font-family="Liberation Sans, Arial, sans-serif" fill="#000" >-0.05</text>
<text x="1156.7" y="367.9" font-size="27.2" text-anchor="middle" font-family="Liberation Sans, Arial, sans-serif" fill="#000" >0</text>
<text x="1269.9" y="367.9" font-size="27.2" text-anchor="middle" font-family="Liberation Sans, Arial, sans-serif" fill="#000" >500</text>
<text x="1390.8" y="367.9" font-size="27.2" text-anchor="middle" font-family="Liberation Sans, Arial, sans-serif" fill="#000" >1000</text>
<text x="1488.8" y="367.9" font-size="27.2" text-anchor="middle" font-family="Liberation Sans, Arial, sans-serif" fill="#000" >1500</text>
<text x="1652.5" y="79.9" font-size="27.5" text-anchor="end" font-family="Liberation Sans, Arial, sans-serif" fill="#000" >0.15</text>
<text x="1652.5" y="146.7" font-size="27.5" text-anchor="end" font-family="Liberation Sans, Arial, sans-serif" fill="#000" >0.10</text>
<text x="1652.5" y="213.5" font-size="27.5" text-anchor="end" font-family="Liberation Sans, Arial, sans-serif" fill="#000" >0.05</text>
<text x="1652.5" y="280.4" font-size="27.5" text-anchor="end" font-family="Liberation Sans, Arial, sans-serif" fill="#000" >0.00</text>
<text x="1652.5" y="347.2" font-size="27.5" text-anchor="end" font-family="Liberation Sans, Arial, sans-serif" fill="#000" >-0.05</text>
<text x="1662.7" y="366.8" font-size="27.2" text-anchor="middle" font-family="Liberation Sans, Arial, sans-serif" fill="#000" >0</text>
<text x="1775.2" y="366.8" font-size="27.2" text-anchor="middle" font-family="Liberation Sans, Arial, sans-serif" fill="#000" >500</text>
<text x="1896.3" y="366.8" font-size="27.2" text-anchor="middle" font-family="Liberation Sans, Arial, sans-serif" fill="#000" >1000</text>
<text x="1993.8" y="366.8" font-size="27.2" text-anchor="middle" font-family="Liberation Sans, Arial, sans-serif" fill="#000" >1500</text>
<text x="1149.7" y="477.4" font-size="27.5" text-anchor="end" font-family="Liberation Sans, Arial, sans-serif" fill="#000" >0.15</text>
<text x="1149.7" y="545.0" font-size="27.5" text-anchor="end" font-family="Liberation Sans, Arial, sans-serif" fill="#000" >0.10</text>
<text x="1149.7" y="612.5" font-size="27.5" text-anchor="end" font-family="Liberation Sans, Arial, sans-serif" fill="#000" >0.05</text>
<text x="1149.7" y="680.1" font-size="27.5" text-anchor="end" font-family="Liberation Sans, Arial, sans-serif" fill="#000" >0.00</text>
<text x="1149.7" y="747.7" font-size="27.5" text-anchor="end" font-family="Liberation Sans, Arial, sans-serif" fill="#000" >-0.05</text>
<text x="1156.7" y="766.1" font-size="27.2" text-anchor="middle" font-family="Liberation Sans, Arial, sans-serif" fill="#000" >0</text>
<text x="1269.7" y="766.1" font-size="27.2" text-anchor="middle" font-family="Liberation Sans, Arial, sans-serif" fill="#000" >500</text>
<text x="1390.5" y="766.1" font-size="27.2" text-anchor="middle" font-family="Liberation Sans, Arial, sans-serif" fill="#000" >1000</text>
<text x="1488.8" y="766.1" font-size="27.2" text-anchor="middle" font-family="Liberation Sans, Arial, sans-serif" fill="#000" >1500</text>
<text x="1649.3" y="476.4" font-size="27.5" text-anchor="end" font-family="Liberation Sans, Arial, sans-serif" fill="#000" >0.15</text>
<text x="1649.3" y="544.0" font-size="27.5" text-anchor="end" font-family="Liberation Sans, Arial, sans-serif" fill="#000" >0.10</text>
<text x="1649.3" y="611.5" font-size="27.5" text-anchor="end" font-family="Liberation Sans, Arial, sans-serif" fill="#000" >0.05</text>
<text x="1649.3" y="679.1" font-size="27.5" text-anchor="end" font-family="Liberation Sans, Arial, sans-serif" fill="#000" >0.00</text>
<text x="1649.3" y="746.7" font-size="27.5" text-anchor="end" font-family="Liberation Sans, Arial, sans-serif" fill="#000" >-0.05</text>
<text x="1656.3" y="766.0" font-size="27.2" text-anchor="middle" font-family="Liberation Sans, Arial, sans-serif" fill="#000" >0</text>
<text x="1769.5" y="766.0" font-size="27.2" text-anchor="middle" font-family="Liberation Sans, Arial, sans-serif" fill="#000" >500</text>
<text x="1890.6" y="766.0" font-size="27.2" text-anchor="middle" font-family="Liberation Sans, Arial, sans-serif" fill="#000" >1000</text>
<text x="1988.0" y="766.0" font-size="27.2" text-anchor="middle" font-family="Liberation Sans, Arial, sans-serif" fill="#000" >1500</text>
<text x="1310.5" y="398.7" font-size="27.2" font-family="Liberation Sans, Arial, sans-serif"><tspan font-style="italic">T</tspan> [K]</text>
<text x="1815.8" y="397.1" font-size="27.2" font-family="Liberation Sans, Arial, sans-serif"><tspan font-style="italic">T</tspan> [K]</text>
<text x="1310.5" y="796.4" font-size="27.2" font-family="Liberation Sans, Arial, sans-serif"><tspan font-style="italic">T</tspan> [K]</text>
<text x="1808.6" y="796.0" font-size="27.2" font-family="Liberation Sans, Arial, sans-serif"><tspan font-style="italic">T</tspan> [K]</text>
<text transform="translate(1084.0,209.7) rotate(-90)" x="0" y="0" font-size="27.2" text-anchor="middle" font-family="Liberation Sans, Arial, sans-serif">ΔG [eV atoms<tspan font-size="17.5" dy="-11.5">-1</tspan><tspan dy="11.5">]</tspan></text>
<text transform="translate(1587.0,208.7) rotate(-90)" x="0" y="0" font-size="27.2" text-anchor="middle" font-family="Liberation Sans, Arial, sans-serif">ΔG [eV atoms<tspan font-size="17.5" dy="-11.5">-1</tspan><tspan dy="11.5">]</tspan></text>
<text transform="translate(1081.5,606.5) rotate(-90)" x="0" y="0" font-size="27.2" text-anchor="middle" font-family="Liberation Sans, Arial, sans-serif">ΔG [eV atoms<tspan font-size="17.5" dy="-11.5">-1</tspan><tspan dy="11.5">]</tspan></text>
<text transform="translate(1581.0,608.0) rotate(-90)" x="0" y="0" font-size="27.2" text-anchor="middle" font-family="Liberation Sans, Arial, sans-serif">ΔG [eV atoms<tspan font-size="17.5" dy="-11.5">-1</tspan><tspan dy="11.5">]</tspan></text>
<text x="1496.4" y="98.6" font-size="27.2" text-anchor="end" font-family="Liberation Sans, Arial, sans-serif" fill="#000" >0 GPa</text>
<text x="1995.0" y="97.8" font-size="27.2" text-anchor="end" font-family="Liberation Sans, Arial, sans-serif" fill="#000" >5 GPa</text>
<text x="1493.8" y="500.2" font-size="27.2" text-anchor="end" font-family="Liberation Sans, Arial, sans-serif" fill="#000" >10 GPa</text>
<text x="1999.5" y="497.3" font-size="27.2" text-anchor="end" font-family="Liberation Sans, Arial, sans-serif" fill="#000" >15 GPa</text>
<text x="1167.6" y="107.0" font-size="27.2" text-anchor="start" font-family="Liberation Sans, Arial, sans-serif" fill="#0a8a0a" >TiNiSi-type</text>
<text x="1164.8" y="231.6" font-size="27.2" text-anchor="start" font-family="Liberation Sans, Arial, sans-serif" fill="#0545b5" >LiGaGe-type</text>
<text x="1167.0" y="302.8" font-size="27.2" text-anchor="start" font-family="Liberation Sans, Arial, sans-serif" fill="#c0560f" >MgAgAs-type</text>
<text x="1680.6" y="145.3" font-size="27.2" text-anchor="start" font-family="Liberation Sans, Arial, sans-serif" fill="#0a8a0a" >TiNiSi-type</text>
<text x="1665.2" y="241.1" font-size="27.2" text-anchor="start" font-family="Liberation Sans, Arial, sans-serif" fill="#0545b5" >LiGaGe-type</text>
<text x="1672.4" y="300.0" font-size="27.2" text-anchor="start" font-family="Liberation Sans, Arial, sans-serif" fill="#c0560f" >MgAgAs-type</text>
<text x="1162.9" y="582.1" font-size="27.2" text-anchor="start" font-family="Liberation Sans, Arial, sans-serif" fill="#0a8a0a" >TiNiSi-type</text>
<text x="1161.8" y="662.2" font-size="27.2" text-anchor="start" font-family="Liberation Sans, Arial, sans-serif" fill="#0545b5" >LiGaGe-type</text>
<text x="1160.7" y="700.3" font-size="27.2" text-anchor="start" font-family="Liberation Sans, Arial, sans-serif" fill="#c0560f" >MgAgAs-type</text>
<text x="1701.6" y="624.0" font-size="27.2" text-anchor="start" font-family="Liberation Sans, Arial, sans-serif" fill="#0a8a0a" >TiNiSi-type</text>
<text x="1665.6" y="698.8" font-size="27.2" text-anchor="start" font-family="Liberation Sans, Arial, sans-serif" fill="#0545b5" >LiGaGe-type</text>
<text x="1846.7" y="657.1" font-size="27.2" text-anchor="start" font-family="Liberation Sans, Arial, sans-serif" fill="#c0560f" >MgAgAs-type</text>
</svg>
</body></html>
